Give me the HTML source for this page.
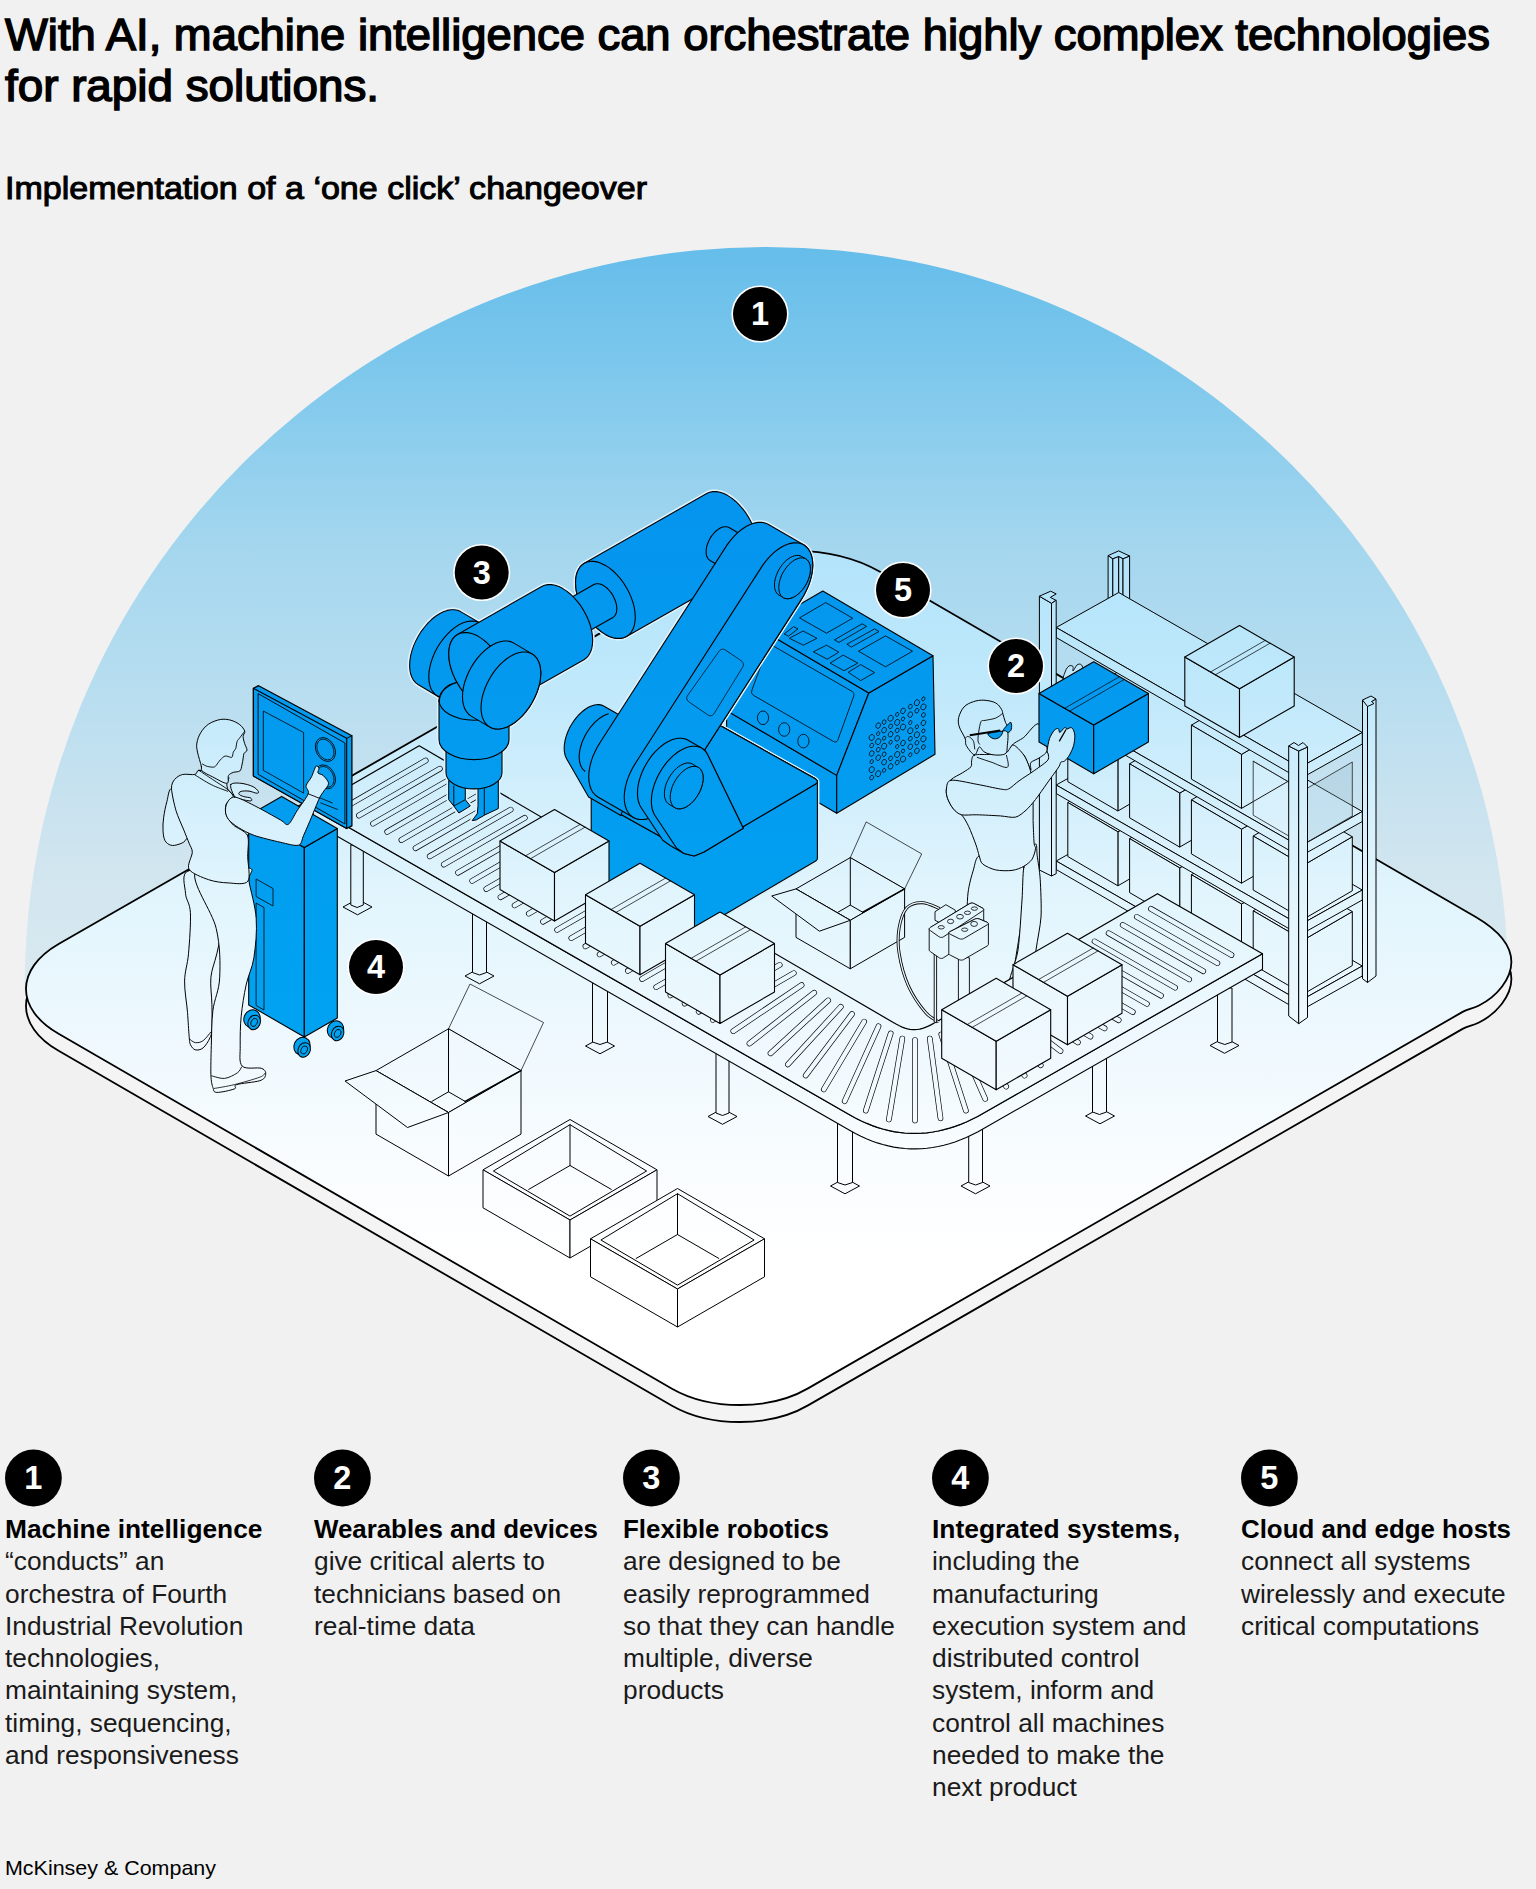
<!DOCTYPE html>
<html><head><meta charset="utf-8"><title>One click changeover</title>
<style>html,body{margin:0;padding:0;background:#f1f1f1}svg{display:block}text{font-family:"Liberation Sans",sans-serif}</style></head>
<body><svg width="1536" height="1889" viewBox="0 0 1536 1889">
<rect width="1536" height="1889" fill="#f1f1f1"/>
<defs>
<linearGradient id="dome" gradientUnits="userSpaceOnUse" x1="0" y1="247" x2="0" y2="990">
<stop offset="0" stop-color="#65bdea"/><stop offset="0.14" stop-color="#79c6ec"/><stop offset="0.394" stop-color="#a3d6ee"/><stop offset="0.61" stop-color="#b9def0"/><stop offset="0.744" stop-color="#c8e2ef"/><stop offset="0.852" stop-color="#d2e6ef"/><stop offset="1" stop-color="#d9e9f0"/></linearGradient>
<linearGradient id="lg" gradientUnits="userSpaceOnUse" x1="0" y1="540" x2="0" y2="1260">
<stop offset="0" stop-color="#b1e3fb"/><stop offset="0.222" stop-color="#c1e9fb"/><stop offset="0.361" stop-color="#d3effc"/><stop offset="0.5" stop-color="#e2f5fd"/><stop offset="0.72" stop-color="#f0f9fe"/><stop offset="0.85" stop-color="#f8fcff"/><stop offset="1" stop-color="#ffffff"/></linearGradient>
<linearGradient id="bl" gradientUnits="userSpaceOnUse" x1="0" y1="480" x2="0" y2="1050">
<stop offset="0" stop-color="#0594ee"/><stop offset="1" stop-color="#00a3f1"/></linearGradient>
</defs>
<path d="M24.5 989 A742 742 0 0 1 1508.5 989 Z" fill="url(#dome)"/>
<path d="M58.6 944 L708 571.4 C756 543.8 832 544 880 571.8 L1476.2 917.2 C1497 929.5 1511.5 945 1511.4 962.1 C1511.3 979 1497 996.5 1479 1005.5 C1472 1009 1468 1009 1462.6 1011.9 L808 1388.4 C770 1410.6 710 1410.4 672 1388.7 L58.6 1033.8 C15.1 1008.7 15.1 969.2 58.6 944Z" transform="translate(0,17)" fill="#f4f4f4" stroke="#000" stroke-width="1.8"/>
<path d="M58.6 944 L708 571.4 C756 543.8 832 544 880 571.8 L1476.2 917.2 C1497 929.5 1511.5 945 1511.4 962.1 C1511.3 979 1497 996.5 1479 1005.5 C1472 1009 1468 1009 1462.6 1011.9 L808 1388.4 C770 1410.6 710 1410.4 672 1388.7 L58.6 1033.8 C15.1 1008.7 15.1 969.2 58.6 944Z" fill="url(#lg)" stroke="#000" stroke-width="1.8"/>
<path d="M1108.1 555.6 L1112.8 558.7 L1112.8 600 L1108.1 600Z" fill="url(#lg)" stroke="#000" stroke-width="1" stroke-linejoin="round" />
<path d="M1112.8 558.7 L1118.7 556.4 L1118.7 600 L1112.8 600Z" fill="url(#lg)" stroke="#000" stroke-width="1" stroke-linejoin="round" />
<path d="M1118.7 556.4 L1123 558.7 L1123 600 L1118.7 600Z" fill="url(#lg)" stroke="#000" stroke-width="1" stroke-linejoin="round" />
<path d="M1123 558.7 L1129.6 556 L1129.6 605 L1123 605Z" fill="url(#lg)" stroke="#000" stroke-width="1" stroke-linejoin="round" />
<path d="M1108.1 555.6 L1118.7 550.9 L1129.6 556 L1123 558.7 L1118.7 556.4 L1112.8 558.7Z" fill="url(#lg)" stroke="#000" stroke-width="1" stroke-linejoin="round" />
<path d="M1362.5 700 L1367.5 703 L1367.5 982.5 L1362.5 978.7Z" fill="url(#lg)" stroke="#000" stroke-width="1" stroke-linejoin="round" />
<path d="M1367.5 703 L1376 699 L1376 976 L1367.5 982.5Z" fill="url(#lg)" stroke="#000" stroke-width="1" stroke-linejoin="round" />
<path d="M1362.5 700 L1371 696 L1376 699 L1371.5 701.5 L1374 703.5 L1367.5 706.5Z" fill="url(#lg)" stroke="#000" stroke-width="1" stroke-linejoin="round" />
<path d="M1056.2 861 L1118.7 826 L1362.3 966 L1299.8 1001Z" fill="url(#lg)" stroke="#000" stroke-width="1" stroke-linejoin="round" />
<path d="M1056.2 861 L1299.8 1001 L1299.8 1011 L1056.2 869.5Z" fill="url(#lg)" stroke="#000" stroke-width="1" stroke-linejoin="round" />
<path d="M1299.8 1001 L1362.3 966 L1362.3 976 L1299.8 1011Z" fill="url(#lg)" stroke="#000" stroke-width="1" stroke-linejoin="round" />
<path d="M1117.9 885.8 L1166.9 857.3 L1166.9 803.3 L1117.9 831.8Z" fill="url(#lg)" stroke="#000" stroke-width="1" stroke-linejoin="round" />
<path d="M1067.8 802.5 L1117.9 831.8 L1166.9 803.3 L1116.8 774Z" fill="url(#lg)" stroke="#000" stroke-width="1" stroke-linejoin="round" />
<path d="M1067.8 856.5 L1117.9 885.8 L1117.9 831.8 L1067.8 802.5Z" fill="url(#lg)" stroke="#000" stroke-width="1" stroke-linejoin="round" />
<path d="M1179.7 921.9 L1228.7 893.4 L1228.7 839.4 L1179.7 867.9Z" fill="url(#lg)" stroke="#000" stroke-width="1" stroke-linejoin="round" />
<path d="M1129.6 838.6 L1179.7 867.9 L1228.7 839.4 L1178.6 810.1Z" fill="url(#lg)" stroke="#000" stroke-width="1" stroke-linejoin="round" />
<path d="M1129.6 892.6 L1179.7 921.9 L1179.7 867.9 L1129.6 838.6Z" fill="url(#lg)" stroke="#000" stroke-width="1" stroke-linejoin="round" />
<path d="M1241.5 958 L1290.5 929.5 L1290.5 875.5 L1241.5 904Z" fill="url(#lg)" stroke="#000" stroke-width="1" stroke-linejoin="round" />
<path d="M1191.4 874.7 L1241.5 904 L1290.5 875.5 L1240.4 846.2Z" fill="url(#lg)" stroke="#000" stroke-width="1" stroke-linejoin="round" />
<path d="M1191.4 928.7 L1241.5 958 L1241.5 904 L1191.4 874.7Z" fill="url(#lg)" stroke="#000" stroke-width="1" stroke-linejoin="round" />
<path d="M1303.3 994.1 L1352.3 965.6 L1352.3 911.6 L1303.3 940.1Z" fill="url(#lg)" stroke="#000" stroke-width="1" stroke-linejoin="round" />
<path d="M1253.2 910.8 L1303.3 940.1 L1352.3 911.6 L1302.2 882.3Z" fill="url(#lg)" stroke="#000" stroke-width="1" stroke-linejoin="round" />
<path d="M1253.2 964.8 L1303.3 994.1 L1303.3 940.1 L1253.2 910.8Z" fill="url(#lg)" stroke="#000" stroke-width="1" stroke-linejoin="round" />
<path d="M1056.2 785 L1118.7 750 L1362.3 890 L1299.8 925Z" fill="url(#lg)" stroke="#000" stroke-width="1" stroke-linejoin="round" />
<path d="M1056.2 785 L1299.8 925 L1299.8 935 L1056.2 793.5Z" fill="url(#lg)" stroke="#000" stroke-width="1" stroke-linejoin="round" />
<path d="M1299.8 925 L1362.3 890 L1362.3 900 L1299.8 935Z" fill="url(#lg)" stroke="#000" stroke-width="1" stroke-linejoin="round" />
<path d="M1117.9 811 L1166.9 782.5 L1166.9 728.5 L1117.9 757Z" fill="url(#lg)" stroke="#000" stroke-width="1" stroke-linejoin="round" />
<path d="M1067.8 727.7 L1117.9 757 L1166.9 728.5 L1116.8 699.2Z" fill="url(#lg)" stroke="#000" stroke-width="1" stroke-linejoin="round" />
<path d="M1067.8 781.7 L1117.9 811 L1117.9 757 L1067.8 727.7Z" fill="url(#lg)" stroke="#000" stroke-width="1" stroke-linejoin="round" />
<path d="M1179.7 847.1 L1228.7 818.6 L1228.7 764.6 L1179.7 793.1Z" fill="url(#lg)" stroke="#000" stroke-width="1" stroke-linejoin="round" />
<path d="M1129.6 763.8 L1179.7 793.1 L1228.7 764.6 L1178.6 735.3Z" fill="url(#lg)" stroke="#000" stroke-width="1" stroke-linejoin="round" />
<path d="M1129.6 817.8 L1179.7 847.1 L1179.7 793.1 L1129.6 763.8Z" fill="url(#lg)" stroke="#000" stroke-width="1" stroke-linejoin="round" />
<path d="M1241.5 883.2 L1290.5 854.7 L1290.5 800.7 L1241.5 829.2Z" fill="url(#lg)" stroke="#000" stroke-width="1" stroke-linejoin="round" />
<path d="M1191.4 799.9 L1241.5 829.2 L1290.5 800.7 L1240.4 771.4Z" fill="url(#lg)" stroke="#000" stroke-width="1" stroke-linejoin="round" />
<path d="M1191.4 853.9 L1241.5 883.2 L1241.5 829.2 L1191.4 799.9Z" fill="url(#lg)" stroke="#000" stroke-width="1" stroke-linejoin="round" />
<path d="M1303.3 919.3 L1352.3 890.8 L1352.3 836.8 L1303.3 865.3Z" fill="url(#lg)" stroke="#000" stroke-width="1" stroke-linejoin="round" />
<path d="M1253.2 836 L1303.3 865.3 L1352.3 836.8 L1302.2 807.5Z" fill="url(#lg)" stroke="#000" stroke-width="1" stroke-linejoin="round" />
<path d="M1253.2 890 L1303.3 919.3 L1303.3 865.3 L1253.2 836Z" fill="url(#lg)" stroke="#000" stroke-width="1" stroke-linejoin="round" />
<path d="M1056.2 706.5 L1118.7 671.5 L1362.3 811.5 L1299.8 846.5Z" fill="url(#lg)" stroke="#000" stroke-width="1" stroke-linejoin="round" />
<path d="M1056.2 706.5 L1299.8 846.5 L1299.8 856.5 L1056.2 715Z" fill="url(#lg)" stroke="#000" stroke-width="1" stroke-linejoin="round" />
<path d="M1299.8 846.5 L1362.3 811.5 L1362.3 821.5 L1299.8 856.5Z" fill="url(#lg)" stroke="#000" stroke-width="1" stroke-linejoin="round" />
<path d="M1241.5 808.4 L1290.5 779.9 L1290.5 725.9 L1241.5 754.4Z" fill="url(#lg)" stroke="#000" stroke-width="1" stroke-linejoin="round" />
<path d="M1191.4 725.1 L1241.5 754.4 L1290.5 725.9 L1240.4 696.6Z" fill="url(#lg)" stroke="#000" stroke-width="1" stroke-linejoin="round" />
<path d="M1191.4 779.1 L1241.5 808.4 L1241.5 754.4 L1191.4 725.1Z" fill="url(#lg)" stroke="#000" stroke-width="1" stroke-linejoin="round" />
<path d="M1303.3 844.5 L1352.3 816 L1352.3 762 L1303.3 790.5Z" fill="rgba(150,185,205,0.28)" stroke="#222" stroke-width="0.8" stroke-linejoin="round" />
<path d="M1253.2 761.2 L1303.3 790.5" fill="none" stroke="#222" stroke-width="0.8" stroke-linejoin="round" stroke-linecap="round" />
<path d="M1253.2 815.2 L1303.3 844.5 L1303.3 790.5 L1253.2 761.2Z" fill="rgba(255,255,255,0.10)" stroke="#222" stroke-width="0.8" stroke-linejoin="round" />
<path d="M1056.2 627.5 L1118.7 592.5 L1362.3 732.5 L1299.8 767.5Z" fill="url(#lg)" stroke="#000" stroke-width="1" stroke-linejoin="round" />
<path d="M1056.2 627.5 L1299.8 767.5 L1299.8 779 L1056.2 637.5Z" fill="url(#lg)" stroke="#000" stroke-width="1" stroke-linejoin="round" />
<path d="M1299.8 767.5 L1362.3 732.5 L1362.3 744 L1299.8 779Z" fill="url(#lg)" stroke="#000" stroke-width="1" stroke-linejoin="round" />
<path d="M1184.8 657.1 L1239.5 688.7 L1239.5 737.5 L1184.8 705.9Z" fill="url(#lg)" stroke="#000" stroke-width="1.1" stroke-linejoin="round" />
<path d="M1239.5 688.7 L1294.2 657.1 L1294.2 705.9 L1239.5 737.5Z" fill="url(#lg)" stroke="#000" stroke-width="1.1" stroke-linejoin="round" />
<path d="M1184.8 657.1 L1239.5 625.5 L1294.2 657.1 L1239.5 688.7Z" fill="url(#lg)" stroke="#000" stroke-width="1.1" stroke-linejoin="round" />
<path d="M1210.5 672 L1265.2 640.4" fill="none" stroke="#000" stroke-width="0.7" stroke-linejoin="round" stroke-linecap="round" />
<path d="M1215.4 674.8 L1270.1 643.2" fill="none" stroke="#000" stroke-width="0.7" stroke-linejoin="round" stroke-linecap="round" />
<path d="M1288.7 746 L1298.7 751 L1298.7 1023.7 L1288.7 1016Z" fill="url(#lg)" stroke="#000" stroke-width="1" stroke-linejoin="round" />
<path d="M1298.7 751 L1307.5 747 L1307.5 1017.5 L1298.7 1023.7Z" fill="url(#lg)" stroke="#000" stroke-width="1" stroke-linejoin="round" />
<path d="M1288.7 746 L1294 742.5 L1298.5 745.5 L1303 742.5 L1307.5 747 L1298.7 751Z" fill="url(#lg)" stroke="#000" stroke-width="1" stroke-linejoin="round" />
<path d="M1039.4 596.2 L1051.5 603.3 L1051.5 876 L1039.4 870Z" fill="url(#lg)" stroke="#000" stroke-width="1" stroke-linejoin="round" />
<path d="M1051.5 603.3 L1056.2 600.2 L1056.2 873.7 L1051.5 876Z" fill="url(#lg)" stroke="#000" stroke-width="1" stroke-linejoin="round" />
<path d="M1039.4 596.2 L1050.7 591.2 L1056.2 593.9 L1050.3 597.4 L1055.8 600.2 L1051.5 603.3Z" fill="url(#lg)" stroke="#000" stroke-width="1" stroke-linejoin="round" />
<path d="M979.2 855.8 C975.6 856.9 974.9 864.9 973.4 869.9 C971.9 874.8 969 884.4 968 893 C967 901.6 966.8 923.1 966 934 C965.2 944.9 962.5 966.2 962 975 C961.5 983.8 956.9 996.7 962 1000 C967.1 1003.3 993.3 1003.3 1000 1000 C1006.7 996.7 1009.7 981.7 1012 975 C1014.3 968.3 1015.7 958 1017 950 C1018.3 942 1021.1 926 1022 915 C1022.9 904 1026.6 874.6 1023.8 867.5 C1020.9 860.4 1006.3 863.2 1000.3 861.6 C994.4 860.1 982.8 854.7 979.2 855.8Z" fill="url(#lg)" stroke="#000" stroke-width="1.0" stroke-linejoin="round" stroke-linecap="round"/>
<path d="M1023.8 867.5 C1022.6 874.2 1022.8 889 1022 900 C1021.2 911 1019.6 939.6 1018 950 C1016.4 960.4 1011.7 971.3 1010 978 C1008.3 984.7 1002.3 997.1 1005 1000 C1007.7 1002.9 1025.9 1006.7 1030 1000 C1034.1 993.3 1034.5 961.1 1036 950 C1037.5 938.9 1040.4 926.4 1041 917 C1041.6 907.6 1040.7 887.4 1040.2 879.2 C1039.7 871.1 1037.8 860.5 1037.2 855.8 C1036.7 851.1 1036.9 844.9 1036.1 844.1 C1035.2 843.3 1032.4 846.8 1030.8 849.9 C1029.1 853.1 1024.9 860.8 1023.8 867.5Z" fill="url(#lg)" stroke="#000" stroke-width="1.0" stroke-linejoin="round" stroke-linecap="round"/>
<path d="M1012 745.6 C1012 743.3 1020.2 740.3 1023.8 737.4 C1027.3 734.5 1035.3 722.4 1038.4 723.9 C1041.5 725.5 1047 744.7 1047.2 749.1 C1047.4 753.6 1042.3 755.5 1040.2 757.3 C1038 759.1 1032 760.9 1030.8 762.6 C1029.5 764.3 1031.7 771.3 1030.8 770.2 C1029.8 769.2 1026.3 758.3 1023.8 755 C1021.3 751.7 1012 748 1012 745.6Z" fill="url(#lg)" stroke="#000" stroke-width="1.0" stroke-linejoin="round" stroke-linecap="round"/>
<path d="M974.5 755 C971.6 756 972.1 759.1 971.6 760.9 C971.1 762.6 972.3 765 971 766.7 C969.7 768.5 965.8 770.6 962.8 772.6 C959.8 774.5 953.6 777.2 951.1 779.6 C948.6 782.1 946.9 786.2 946.4 789 C945.9 791.8 946.5 795.4 947.6 798.4 C948.6 801.4 951.3 806.5 953.4 808.9 C955.5 811.4 959.4 812.1 961.6 814.8 C963.9 817.4 966.6 822.1 968.7 826.5 C970.8 830.9 974.1 839.7 975.7 844.1 C977.3 848.5 978.2 852.8 979.2 855.8 C980.3 858.8 980.3 861.9 982.7 864 C985.2 866.1 991.2 868.9 995.6 869.9 C1000 870.8 1007.8 871 1012 870.4 C1016.3 869.9 1020.8 868 1023.8 866.3 C1026.7 864.7 1030.2 861.9 1032 859.3 C1033.7 856.7 1035.2 851.2 1035.5 848.8 C1035.8 846.3 1034.4 847.1 1034.1 842.9 C1033.7 838.7 1033.3 826.6 1033.1 820.6 C1033 814.7 1033.3 809.2 1033.1 803.1 C1033 796.9 1032.5 784.9 1032 779.6 C1031.4 774.3 1030.8 771.6 1029.6 767.9 C1028.4 764.2 1026.2 758.4 1023.8 755 C1021.3 751.6 1015.8 745.4 1013.2 745 C1010.6 744.7 1009.5 751.3 1006.2 752.7 C1002.8 754.1 995.7 754.1 990.9 754.4 C986.2 754.8 977.4 754 974.5 755Z" fill="url(#lg)" stroke="#000" stroke-width="1.0" stroke-linejoin="round" stroke-linecap="round"/>
<path d="M976.9 757.3 C979.2 758.1 985.9 760.4 990.9 762 C996 763.7 1004.8 768.5 1007.3 767.3 C1009.9 766.1 1006.6 757.1 1006.4 755" fill="none" stroke="#000" stroke-width="0.9"/>
<path d="M974.5 755 C972.4 754.8 967.9 748.4 966.3 745.6 C964.8 742.9 966.3 741.7 965.2 738.6 C964 735.5 960.4 730.4 959.3 726.9 C958.2 723.4 957.9 720.8 958.7 717.5 C959.5 714.2 961.5 709.6 964 707 C966.4 704.3 970 702.8 973.4 701.7 C976.7 700.5 980.2 700 983.9 700.2 C987.6 700.4 992.7 701.3 995.6 702.9 C998.6 704.4 1000.3 707.4 1001.5 709.3 C1002.7 711.2 1002.3 712 1002.9 714 C1003.5 715.9 1004.3 719 1005 721 C1005.7 723.1 1006.5 723.9 1007 726.3 C1007.5 728.6 1008 731.9 1008 735.1 C1008.1 738.3 1007.7 742.7 1007.3 745.6 C1007 748.6 1007.3 751.3 1006.2 752.9 C1005 754.5 1002.9 754.7 1000.3 755 C997.8 755.3 993.7 755 990.9 754.4 C988.2 753.9 985.9 753 983.9 751.7 C982 750.5 980.8 746.5 979.2 747 C977.7 747.6 976.7 755.2 974.5 755Z" fill="url(#lg)" stroke="#000" stroke-width="1.0" stroke-linejoin="round" stroke-linecap="round"/>
<path d="M1002.7 713.4 C1001.5 714.2 998.6 716.9 995.6 718.1 C992.7 719.3 987.5 719.8 985.1 720.4 C982.6 721 982.1 719.6 981 721.6 C979.9 723.7 979.1 729.5 978.6 732.7 C978.1 736 977.9 739 978 740.9 C978.2 742.9 979.5 743.9 979.8 744.5" fill="none" stroke="#000" stroke-width="0.9"/>
<path d="M965.2 738.6 C965.5 738.2 966.4 736.6 967.3 736.5 C968.1 736.3 969.4 736.8 970.4 737.7 C971.5 738.5 972.9 739.6 973.6 741.5 C974.3 743.5 974.6 748.1 974.8 749.4" fill="none" stroke="#000" stroke-width="0.9"/>
<path d="M969.8 735.3 L1000.3 730.6" stroke="#000" stroke-width="2" fill="none"/>
<path d="M988 733.7 C987.2 734.6 989.7 736.6 990.9 737.4 C992.2 738.3 994.1 739 995.6 738.8 C997.2 738.7 999.2 737.7 1000.3 736.5 C1001.4 735.3 1003.2 732.3 1002.4 731.6 C1001.6 730.8 998 731.8 995.6 732.2 C993.2 732.5 988.8 732.8 988 733.7Z" fill="url(#bl)" stroke="#000" stroke-width="1.0" stroke-linejoin="round" stroke-linecap="round"/>
<path d="M1002.4 731.3 C1002.5 730.7 1004.2 728.4 1005.6 726.9 C1007 725.4 1009.9 722 1010.9 722.4 C1011.8 722.8 1011.8 727.6 1011.3 729.2 C1010.9 730.9 1009.3 732.2 1008.3 732.4 C1007.2 732.6 1006 730.8 1005 730.6 C1004 730.5 1002.3 732 1002.4 731.3Z" fill="url(#bl)" stroke="#000" stroke-width="1.0" stroke-linejoin="round" stroke-linecap="round"/>
<path d="M1064 680 C1061.9 678.5 1064.7 673.3 1065.5 671 C1066.3 668.7 1067.8 666.8 1069 666 C1070.2 665.2 1072.3 665.7 1073 666.5 C1073.7 667.3 1072.3 671.2 1073 671 C1073.7 670.8 1075.7 666.1 1077 665 C1078.3 663.9 1080.1 663.8 1081 664.5 C1081.9 665.2 1083 666.4 1082.5 669 C1082 671.6 1081.1 678.2 1078 680 C1074.9 681.8 1066.1 681.5 1064 680Z" fill="url(#lg)" stroke="#000" stroke-width="0.9" stroke-linejoin="round" stroke-linecap="round"/>
<path d="M1039 693.4 L1093.7 725 L1093.7 773.7 L1039 742.1Z" fill="url(#bl)" stroke="#000" stroke-width="1.1" stroke-linejoin="round" />
<path d="M1093.7 725 L1148.4 693.4 L1148.4 742.1 L1093.7 773.7Z" fill="url(#bl)" stroke="#000" stroke-width="1.1" stroke-linejoin="round" />
<path d="M1039 693.4 L1093.7 661.8 L1148.4 693.4 L1093.7 725Z" fill="url(#bl)" stroke="#000" stroke-width="1.1" stroke-linejoin="round" />
<path d="M1064.7 708.3 L1119.4 676.7" fill="none" stroke="#000" stroke-width="0.7" stroke-linejoin="round" stroke-linecap="round" />
<path d="M1069.6 711.1 L1124.3 679.5" fill="none" stroke="#000" stroke-width="0.7" stroke-linejoin="round" stroke-linecap="round" />
<path d="M951.1 780.2 C955.7 779.5 969.5 783 976.9 784.3 C984.3 785.6 995.6 788.3 1000.3 789 C1005.1 789.7 1005.7 790.2 1008.5 789 C1011.3 787.8 1015.4 783.4 1019.1 780.8 C1022.8 778.1 1028.9 774.4 1033.1 771.4 C1037.3 768.4 1044.9 763.3 1047.2 760.9 C1049.5 758.4 1048.4 756.6 1048.4 755 C1048.4 753.4 1047 752.8 1047.2 750.3 C1047.4 747.9 1048.5 741.6 1049.5 738.6 C1050.6 735.6 1052.9 731.9 1054.2 730.4 C1055.5 728.9 1057.5 728.3 1058.3 728.6 C1059.2 729 1058.9 732.7 1059.8 732.5 C1060.8 732.3 1063.7 728 1064.8 727.5 C1065.8 727 1066.2 729.1 1066.9 729.2 C1067.5 729.3 1068.4 728.2 1069.2 728 C1070.1 727.9 1071.5 727.2 1072.4 728.3 C1073.2 729.3 1074.7 732.5 1074.8 735.1 C1075 737.7 1074.4 742.6 1073.6 745.6 C1072.8 748.6 1070.8 752.7 1069.5 755 C1068.1 757.3 1066.1 759.8 1064.8 760.9 C1063.5 762 1061.5 761.4 1060.7 762.3 C1059.8 763.1 1060.9 763.6 1058.9 766.7 C1056.9 769.9 1050.7 778.2 1047.2 783.1 C1043.7 788.1 1038.6 795.5 1035.5 799.5 C1032.3 803.6 1029.1 807.4 1026.1 810.1 C1023.1 812.7 1019.4 816.2 1015.6 817.1 C1011.7 818 1006.1 816.3 1000.3 815.9 C994.5 815.6 982.7 814.9 976.9 814.8 C971.1 814.6 965.2 815.6 961.6 814.8 C958.1 813.9 955.5 811.4 953.4 808.9 C951.3 806.5 948.6 801.4 947.6 798.4 C946.5 795.4 945.9 791.7 946.4 789 C946.9 786.3 946.5 780.9 951.1 780.2Z" fill="url(#lg)" stroke="#000" stroke-width="1.0" stroke-linejoin="round" stroke-linecap="round"/>
<path d="M1059.5 740.9 L1065.9 729.8" fill="none" stroke="#000" stroke-width="1.3" stroke-linejoin="round" stroke-linecap="round" />
<path d="M836.7 775.4 L836.7 813.3 L726.6 748.5 L726.6 710.6Z" fill="url(#bl)" stroke="#000" stroke-width="1.1" stroke-linejoin="round" />
<path d="M758.7 628.2 L868.8 693 L836.7 775.4 L726.6 710.6Z" fill="url(#bl)" stroke="#000" stroke-width="1.1" stroke-linejoin="round" />
<path d="M868.8 693 L933 655.8 L935 754.3 L836.7 813.3 L836.7 775.4Z" fill="url(#bl)" stroke="#000" stroke-width="1.1" stroke-linejoin="round" />
<path d="M758.7 628.2 L822.8 591 L933 655.8 L868.8 693Z" fill="url(#bl)" stroke="#000" stroke-width="1.1" stroke-linejoin="round" />
<path d="M799.5 617.9 L825.7 602.6 L852.7 618.2 L826.5 633.2Z" fill="none" stroke="#000" stroke-width="0.8" stroke-linejoin="round" />
<path d="M789.3 638.3 L803.1 631 L817 638.3 L803.4 645.2Z" fill="none" stroke="#000" stroke-width="0.8" stroke-linejoin="round" />
<path d="M834.5 639.8 L862.2 623.8 L866.6 626.4 L838.9 642.4Z" fill="none" stroke="#000" stroke-width="0.8" stroke-linejoin="round" />
<path d="M846.9 644.2 L874.6 628.9 L879 631.5 L851.3 647.1Z" fill="none" stroke="#000" stroke-width="0.8" stroke-linejoin="round" />
<path d="M858.5 651.2 L885.5 635.9 L912.5 651.2 L885.5 666.8Z" fill="none" stroke="#000" stroke-width="0.8" stroke-linejoin="round" />
<path d="M813.3 651.8 L826.5 645.2 L838.9 652.2 L827.2 659.2Z" fill="none" stroke="#000" stroke-width="0.8" stroke-linejoin="round" />
<path d="M830.1 663.1 L843.2 655.1 L857.8 663.1 L844 670.7Z" fill="none" stroke="#000" stroke-width="0.8" stroke-linejoin="round" />
<path d="M848.3 672.3 L860.7 664.6 L874.6 672.6 L860.7 680.6Z" fill="none" stroke="#000" stroke-width="0.8" stroke-linejoin="round" />
<path d="M784.2 634 L793.6 626.7 L798 628.9 L788.5 636.1Z" fill="none" stroke="#000" stroke-width="0.8" stroke-linejoin="round" />
<path d="M767.5 647.2 L768 646.1 L768.6 645.3 L769.4 644.9 L770.2 644.7 L771.2 644.9 L772.3 645.4 L851.4 691 L852.5 691.7 L853.2 692.6 L853.7 693.5 L853.9 694.5 L853.9 695.6 L853.5 696.8 L838 739.6 L837.5 740.7 L836.9 741.4 L836.1 741.9 L835.3 742 L834.3 741.8 L833.2 741.3 L754.1 695.7 L753.1 695 L752.3 694.2 L751.8 693.3 L751.6 692.3 L751.7 691.2 L752 690Z" fill="none" stroke="#000" stroke-width="0.8" stroke-linejoin="round" />
<ellipse cx="763" cy="717.8" rx="5.6" ry="6.8" fill="none" stroke="#000" stroke-width="0.8"/>
<ellipse cx="784.2" cy="729.5" rx="5.6" ry="6.8" fill="none" stroke="#000" stroke-width="0.8"/>
<ellipse cx="803.4" cy="741.1" rx="5.6" ry="6.8" fill="none" stroke="#000" stroke-width="0.8"/>
<ellipse cx="871.7" cy="737.5" rx="2.5" ry="3.1" fill="none" stroke="#000" stroke-width="0.7" transform="rotate(25 871.7 737.5)"/>
<ellipse cx="871.7" cy="745.5" rx="1.8" ry="2.4" fill="none" stroke="#000" stroke-width="0.7" transform="rotate(25 871.7 745.5)"/>
<ellipse cx="871.7" cy="753.5" rx="2.2" ry="2.9" fill="none" stroke="#000" stroke-width="0.7" transform="rotate(25 871.7 753.5)"/>
<ellipse cx="871.7" cy="761.6" rx="1.5" ry="2.1" fill="none" stroke="#000" stroke-width="0.7" transform="rotate(25 871.7 761.6)"/>
<ellipse cx="871.7" cy="769.6" rx="2.5" ry="3.1" fill="none" stroke="#000" stroke-width="0.7" transform="rotate(25 871.7 769.6)"/>
<ellipse cx="871.7" cy="777.6" rx="1.8" ry="2.4" fill="none" stroke="#000" stroke-width="0.7" transform="rotate(25 871.7 777.6)"/>
<ellipse cx="878.2" cy="725.6" rx="2.2" ry="2.9" fill="none" stroke="#000" stroke-width="0.7" transform="rotate(25 878.2 725.6)"/>
<ellipse cx="878.2" cy="733.6" rx="1.5" ry="2.1" fill="none" stroke="#000" stroke-width="0.7" transform="rotate(25 878.2 733.6)"/>
<ellipse cx="878.2" cy="741.6" rx="2.5" ry="3.1" fill="none" stroke="#000" stroke-width="0.7" transform="rotate(25 878.2 741.6)"/>
<ellipse cx="878.2" cy="749.7" rx="1.8" ry="2.4" fill="none" stroke="#000" stroke-width="0.7" transform="rotate(25 878.2 749.7)"/>
<ellipse cx="878.2" cy="757.7" rx="2.2" ry="2.9" fill="none" stroke="#000" stroke-width="0.7" transform="rotate(25 878.2 757.7)"/>
<ellipse cx="878.2" cy="773.7" rx="2.5" ry="3.1" fill="none" stroke="#000" stroke-width="0.7" transform="rotate(25 878.2 773.7)"/>
<ellipse cx="884.1" cy="722.1" rx="1.8" ry="2.4" fill="none" stroke="#000" stroke-width="0.7" transform="rotate(25 884.1 722.1)"/>
<ellipse cx="884.1" cy="730.2" rx="2.2" ry="2.9" fill="none" stroke="#000" stroke-width="0.7" transform="rotate(25 884.1 730.2)"/>
<ellipse cx="884.1" cy="738.2" rx="1.5" ry="2.1" fill="none" stroke="#000" stroke-width="0.7" transform="rotate(25 884.1 738.2)"/>
<ellipse cx="884.1" cy="746.2" rx="2.5" ry="3.1" fill="none" stroke="#000" stroke-width="0.7" transform="rotate(25 884.1 746.2)"/>
<ellipse cx="884.1" cy="754.2" rx="1.8" ry="2.4" fill="none" stroke="#000" stroke-width="0.7" transform="rotate(25 884.1 754.2)"/>
<ellipse cx="884.1" cy="762.2" rx="2.2" ry="2.9" fill="none" stroke="#000" stroke-width="0.7" transform="rotate(25 884.1 762.2)"/>
<ellipse cx="884.1" cy="770.3" rx="1.5" ry="2.1" fill="none" stroke="#000" stroke-width="0.7" transform="rotate(25 884.1 770.3)"/>
<ellipse cx="890.6" cy="718.3" rx="2.5" ry="3.1" fill="none" stroke="#000" stroke-width="0.7" transform="rotate(25 890.6 718.3)"/>
<ellipse cx="890.6" cy="726.3" rx="1.8" ry="2.4" fill="none" stroke="#000" stroke-width="0.7" transform="rotate(25 890.6 726.3)"/>
<ellipse cx="890.6" cy="734.3" rx="2.2" ry="2.9" fill="none" stroke="#000" stroke-width="0.7" transform="rotate(25 890.6 734.3)"/>
<ellipse cx="890.6" cy="742.3" rx="1.5" ry="2.1" fill="none" stroke="#000" stroke-width="0.7" transform="rotate(25 890.6 742.3)"/>
<ellipse cx="890.6" cy="758.4" rx="1.8" ry="2.4" fill="none" stroke="#000" stroke-width="0.7" transform="rotate(25 890.6 758.4)"/>
<ellipse cx="890.6" cy="766.4" rx="2.2" ry="2.9" fill="none" stroke="#000" stroke-width="0.7" transform="rotate(25 890.6 766.4)"/>
<ellipse cx="897.2" cy="714.4" rx="1.5" ry="2.1" fill="none" stroke="#000" stroke-width="0.7" transform="rotate(25 897.2 714.4)"/>
<ellipse cx="897.2" cy="722.4" rx="2.5" ry="3.1" fill="none" stroke="#000" stroke-width="0.7" transform="rotate(25 897.2 722.4)"/>
<ellipse cx="897.2" cy="730.4" rx="1.8" ry="2.4" fill="none" stroke="#000" stroke-width="0.7" transform="rotate(25 897.2 730.4)"/>
<ellipse cx="897.2" cy="738.4" rx="2.2" ry="2.9" fill="none" stroke="#000" stroke-width="0.7" transform="rotate(25 897.2 738.4)"/>
<ellipse cx="897.2" cy="746.5" rx="1.5" ry="2.1" fill="none" stroke="#000" stroke-width="0.7" transform="rotate(25 897.2 746.5)"/>
<ellipse cx="897.2" cy="754.5" rx="2.5" ry="3.1" fill="none" stroke="#000" stroke-width="0.7" transform="rotate(25 897.2 754.5)"/>
<ellipse cx="897.2" cy="762.5" rx="1.8" ry="2.4" fill="none" stroke="#000" stroke-width="0.7" transform="rotate(25 897.2 762.5)"/>
<ellipse cx="903" cy="710.9" rx="2.2" ry="2.9" fill="none" stroke="#000" stroke-width="0.7" transform="rotate(25 903 710.9)"/>
<ellipse cx="903" cy="718.9" rx="1.5" ry="2.1" fill="none" stroke="#000" stroke-width="0.7" transform="rotate(25 903 718.9)"/>
<ellipse cx="903" cy="727" rx="2.5" ry="3.1" fill="none" stroke="#000" stroke-width="0.7" transform="rotate(25 903 727)"/>
<ellipse cx="903" cy="743" rx="2.2" ry="2.9" fill="none" stroke="#000" stroke-width="0.7" transform="rotate(25 903 743)"/>
<ellipse cx="903" cy="751" rx="1.5" ry="2.1" fill="none" stroke="#000" stroke-width="0.7" transform="rotate(25 903 751)"/>
<ellipse cx="903" cy="759" rx="2.5" ry="3.1" fill="none" stroke="#000" stroke-width="0.7" transform="rotate(25 903 759)"/>
<ellipse cx="910.3" cy="706.6" rx="1.8" ry="2.4" fill="none" stroke="#000" stroke-width="0.7" transform="rotate(25 910.3 706.6)"/>
<ellipse cx="910.3" cy="714.6" rx="2.2" ry="2.9" fill="none" stroke="#000" stroke-width="0.7" transform="rotate(25 910.3 714.6)"/>
<ellipse cx="910.3" cy="722.6" rx="1.5" ry="2.1" fill="none" stroke="#000" stroke-width="0.7" transform="rotate(25 910.3 722.6)"/>
<ellipse cx="910.3" cy="730.7" rx="2.5" ry="3.1" fill="none" stroke="#000" stroke-width="0.7" transform="rotate(25 910.3 730.7)"/>
<ellipse cx="910.3" cy="738.7" rx="1.8" ry="2.4" fill="none" stroke="#000" stroke-width="0.7" transform="rotate(25 910.3 738.7)"/>
<ellipse cx="910.3" cy="746.7" rx="2.2" ry="2.9" fill="none" stroke="#000" stroke-width="0.7" transform="rotate(25 910.3 746.7)"/>
<ellipse cx="910.3" cy="754.7" rx="1.5" ry="2.1" fill="none" stroke="#000" stroke-width="0.7" transform="rotate(25 910.3 754.7)"/>
<ellipse cx="916.9" cy="702.7" rx="2.5" ry="3.1" fill="none" stroke="#000" stroke-width="0.7" transform="rotate(25 916.9 702.7)"/>
<ellipse cx="916.9" cy="710.7" rx="1.8" ry="2.4" fill="none" stroke="#000" stroke-width="0.7" transform="rotate(25 916.9 710.7)"/>
<ellipse cx="916.9" cy="726.8" rx="1.5" ry="2.1" fill="none" stroke="#000" stroke-width="0.7" transform="rotate(25 916.9 726.8)"/>
<ellipse cx="916.9" cy="734.8" rx="2.5" ry="3.1" fill="none" stroke="#000" stroke-width="0.7" transform="rotate(25 916.9 734.8)"/>
<ellipse cx="916.9" cy="742.8" rx="1.8" ry="2.4" fill="none" stroke="#000" stroke-width="0.7" transform="rotate(25 916.9 742.8)"/>
<ellipse cx="916.9" cy="750.8" rx="2.2" ry="2.9" fill="none" stroke="#000" stroke-width="0.7" transform="rotate(25 916.9 750.8)"/>
<ellipse cx="923.4" cy="698.8" rx="1.5" ry="2.1" fill="none" stroke="#000" stroke-width="0.7" transform="rotate(25 923.4 698.8)"/>
<ellipse cx="923.4" cy="706.9" rx="2.5" ry="3.1" fill="none" stroke="#000" stroke-width="0.7" transform="rotate(25 923.4 706.9)"/>
<ellipse cx="923.4" cy="714.9" rx="1.8" ry="2.4" fill="none" stroke="#000" stroke-width="0.7" transform="rotate(25 923.4 714.9)"/>
<ellipse cx="923.4" cy="722.9" rx="2.2" ry="2.9" fill="none" stroke="#000" stroke-width="0.7" transform="rotate(25 923.4 722.9)"/>
<ellipse cx="923.4" cy="730.9" rx="1.5" ry="2.1" fill="none" stroke="#000" stroke-width="0.7" transform="rotate(25 923.4 730.9)"/>
<ellipse cx="923.4" cy="738.9" rx="2.5" ry="3.1" fill="none" stroke="#000" stroke-width="0.7" transform="rotate(25 923.4 738.9)"/>
<ellipse cx="923.4" cy="747" rx="1.8" ry="2.4" fill="none" stroke="#000" stroke-width="0.7" transform="rotate(25 923.4 747)"/>
<path d="M343 907 L357.5 899.2 L372 907 L357.5 914.8Z" fill="url(#lg)" stroke="#000" stroke-width="1.0" stroke-linejoin="round" />
<path d="M350.8 845 L363.3 845 L363.3 905 L357.1 907.5 L350.8 905Z" fill="url(#lg)" stroke="#000" stroke-width="1.0" stroke-linejoin="round" />
<path d="M465 976 L479.5 968.2 L494 976 L479.5 983.8Z" fill="url(#lg)" stroke="#000" stroke-width="1.0" stroke-linejoin="round" />
<path d="M472.5 912 L486.5 912 L486.5 972.5 L479.5 975 L472.5 972.5Z" fill="url(#lg)" stroke="#000" stroke-width="1.0" stroke-linejoin="round" />
<path d="M585.5 1046 L600 1038.2 L614.5 1046 L600 1053.8Z" fill="url(#lg)" stroke="#000" stroke-width="1.0" stroke-linejoin="round" />
<path d="M592.5 983 L607.5 983 L607.5 1042 L600 1044.5 L592.5 1042Z" fill="url(#lg)" stroke="#000" stroke-width="1.0" stroke-linejoin="round" />
<path d="M708 1116.5 L722.5 1108.7 L737 1116.5 L722.5 1124.3Z" fill="url(#lg)" stroke="#000" stroke-width="1.0" stroke-linejoin="round" />
<path d="M716 1052 L729 1052 L729 1113 L722.5 1115.5 L716 1113Z" fill="url(#lg)" stroke="#000" stroke-width="1.0" stroke-linejoin="round" />
<path d="M830.5 1186 L845 1178.2 L859.5 1186 L845 1193.8Z" fill="url(#lg)" stroke="#000" stroke-width="1.0" stroke-linejoin="round" />
<path d="M837.5 1120 L852.5 1120 L852.5 1182.5 L845 1185 L837.5 1182.5Z" fill="url(#lg)" stroke="#000" stroke-width="1.0" stroke-linejoin="round" />
<path d="M961 1186 L975.5 1178.2 L990 1186 L975.5 1193.8Z" fill="url(#lg)" stroke="#000" stroke-width="1.0" stroke-linejoin="round" />
<path d="M968.7 1128 L982.5 1128 L982.5 1182.5 L975.6 1185 L968.7 1182.5Z" fill="url(#lg)" stroke="#000" stroke-width="1.0" stroke-linejoin="round" />
<path d="M1085.5 1116 L1100 1108.2 L1114.5 1116 L1100 1123.8Z" fill="url(#lg)" stroke="#000" stroke-width="1.0" stroke-linejoin="round" />
<path d="M1092.5 1058 L1106.5 1058 L1106.5 1112 L1099.5 1114.5 L1092.5 1112Z" fill="url(#lg)" stroke="#000" stroke-width="1.0" stroke-linejoin="round" />
<path d="M1210 1045.5 L1224.5 1037.7 L1239 1045.5 L1224.5 1053.3Z" fill="url(#lg)" stroke="#000" stroke-width="1.0" stroke-linejoin="round" />
<path d="M1217.5 988 L1232 988 L1232 1042 L1224.8 1044.5 L1217.5 1042Z" fill="url(#lg)" stroke="#000" stroke-width="1.0" stroke-linejoin="round" />
<path d="M1262.5 953.7 L983.3 1113.3 L977.6 1116.5 L971.9 1119.3 L966.3 1122 L960.6 1124.3 L955 1126.4 L949.4 1128.2 L943.8 1129.7 L938.2 1131 L932.6 1132 L927 1132.8 L921.5 1133.2 L915.9 1133.4 L910.4 1133.4 L904.8 1133 L899.3 1132.4 L893.8 1131.6 L888.3 1130.4 L882.8 1129 L877.3 1127.4 L871.8 1125.4 L866.4 1123.2 L860.9 1120.7 L855.4 1118 L850 1115 L313.2 807 L313.2 822.5 L850 1130.5 L855.4 1133.5 L860.9 1136.2 L866.4 1138.7 L871.8 1140.9 L877.3 1142.9 L882.8 1144.5 L888.3 1145.9 L893.8 1147.1 L899.3 1147.9 L904.8 1148.5 L910.4 1148.9 L915.9 1148.9 L921.5 1148.7 L927 1148.3 L932.6 1147.5 L938.2 1146.5 L943.8 1145.2 L949.4 1143.7 L955 1141.9 L960.6 1139.8 L966.3 1137.5 L971.9 1134.8 L977.6 1132 L983.3 1128.8 L1262.5 969.2Z" fill="url(#lg)" stroke="#000" stroke-width="1.1" stroke-linejoin="round" />
<path d="M419.2 745.8 L893.3 1022.5 L896.5 1024.3 L899.4 1025.8 L902.2 1027.1 L904.9 1028.1 L907.5 1028.9 L910 1029.4 L912.4 1029.7 L914.9 1029.7 L917.4 1029.5 L919.9 1029.1 L922.6 1028.3 L925.3 1027.3 L928.3 1026.1 L931.4 1024.6 L934.7 1022.8 L938.3 1020.8 L1157.5 893.7 L1262.5 953.7 L983.3 1113.3 L977.6 1116.5 L971.9 1119.3 L966.3 1122 L960.6 1124.3 L955 1126.4 L949.4 1128.2 L943.8 1129.7 L938.2 1131 L932.6 1132 L927 1132.8 L921.5 1133.2 L915.9 1133.4 L910.4 1133.4 L904.8 1133 L899.3 1132.4 L893.8 1131.6 L888.3 1130.4 L882.8 1129 L877.3 1127.4 L871.8 1125.4 L866.4 1123.2 L860.9 1120.7 L855.4 1118 L850 1115 L313.2 807Z" fill="url(#lg)" stroke="#000" stroke-width="1.25" stroke-linejoin="round" />
<path d="M425.7 760.5L344.7 807.3" stroke="#000" stroke-width="5.65" stroke-linecap="round" fill="none"/>
<path d="M425.7 760.5L344.7 807.3" stroke="url(#lg)" stroke-width="4.35" stroke-linecap="round" fill="none"/>
<path d="M439.9 768.7L358.9 815.5" stroke="#000" stroke-width="5.65" stroke-linecap="round" fill="none"/>
<path d="M439.9 768.7L358.9 815.5" stroke="url(#lg)" stroke-width="4.35" stroke-linecap="round" fill="none"/>
<path d="M454 776.9L373 823.6" stroke="#000" stroke-width="5.65" stroke-linecap="round" fill="none"/>
<path d="M454 776.9L373 823.6" stroke="url(#lg)" stroke-width="4.35" stroke-linecap="round" fill="none"/>
<path d="M468.2 785.1L387.2 831.8" stroke="#000" stroke-width="5.65" stroke-linecap="round" fill="none"/>
<path d="M468.2 785.1L387.2 831.8" stroke="url(#lg)" stroke-width="4.35" stroke-linecap="round" fill="none"/>
<path d="M482.3 793.2L401.4 840" stroke="#000" stroke-width="5.65" stroke-linecap="round" fill="none"/>
<path d="M482.3 793.2L401.4 840" stroke="url(#lg)" stroke-width="4.35" stroke-linecap="round" fill="none"/>
<path d="M496.5 801.4L415.5 848.2" stroke="#000" stroke-width="5.65" stroke-linecap="round" fill="none"/>
<path d="M496.5 801.4L415.5 848.2" stroke="url(#lg)" stroke-width="4.35" stroke-linecap="round" fill="none"/>
<path d="M510.7 809.6L429.7 856.3" stroke="#000" stroke-width="5.65" stroke-linecap="round" fill="none"/>
<path d="M510.7 809.6L429.7 856.3" stroke="url(#lg)" stroke-width="4.35" stroke-linecap="round" fill="none"/>
<path d="M524.8 817.8L443.8 864.5" stroke="#000" stroke-width="5.65" stroke-linecap="round" fill="none"/>
<path d="M524.8 817.8L443.8 864.5" stroke="url(#lg)" stroke-width="4.35" stroke-linecap="round" fill="none"/>
<path d="M539 825.9L458 872.7" stroke="#000" stroke-width="5.65" stroke-linecap="round" fill="none"/>
<path d="M539 825.9L458 872.7" stroke="url(#lg)" stroke-width="4.35" stroke-linecap="round" fill="none"/>
<path d="M553.1 834.1L472.2 880.9" stroke="#000" stroke-width="5.65" stroke-linecap="round" fill="none"/>
<path d="M553.1 834.1L472.2 880.9" stroke="url(#lg)" stroke-width="4.35" stroke-linecap="round" fill="none"/>
<path d="M567.3 842.3L486.3 889" stroke="#000" stroke-width="5.65" stroke-linecap="round" fill="none"/>
<path d="M567.3 842.3L486.3 889" stroke="url(#lg)" stroke-width="4.35" stroke-linecap="round" fill="none"/>
<path d="M581.4 850.5L500.5 897.2" stroke="#000" stroke-width="5.65" stroke-linecap="round" fill="none"/>
<path d="M581.4 850.5L500.5 897.2" stroke="url(#lg)" stroke-width="4.35" stroke-linecap="round" fill="none"/>
<path d="M595.6 858.6L514.6 905.4" stroke="#000" stroke-width="5.65" stroke-linecap="round" fill="none"/>
<path d="M595.6 858.6L514.6 905.4" stroke="url(#lg)" stroke-width="4.35" stroke-linecap="round" fill="none"/>
<path d="M609.8 866.8L528.8 913.6" stroke="#000" stroke-width="5.65" stroke-linecap="round" fill="none"/>
<path d="M609.8 866.8L528.8 913.6" stroke="url(#lg)" stroke-width="4.35" stroke-linecap="round" fill="none"/>
<path d="M623.9 875L543 921.7" stroke="#000" stroke-width="5.65" stroke-linecap="round" fill="none"/>
<path d="M623.9 875L543 921.7" stroke="url(#lg)" stroke-width="4.35" stroke-linecap="round" fill="none"/>
<path d="M638.1 883.2L557.1 929.9" stroke="#000" stroke-width="5.65" stroke-linecap="round" fill="none"/>
<path d="M638.1 883.2L557.1 929.9" stroke="url(#lg)" stroke-width="4.35" stroke-linecap="round" fill="none"/>
<path d="M652.2 891.3L571.3 938.1" stroke="#000" stroke-width="5.65" stroke-linecap="round" fill="none"/>
<path d="M652.2 891.3L571.3 938.1" stroke="url(#lg)" stroke-width="4.35" stroke-linecap="round" fill="none"/>
<path d="M666.4 899.5L585.4 946.3" stroke="#000" stroke-width="5.65" stroke-linecap="round" fill="none"/>
<path d="M666.4 899.5L585.4 946.3" stroke="url(#lg)" stroke-width="4.35" stroke-linecap="round" fill="none"/>
<path d="M680.6 907.7L599.6 954.4" stroke="#000" stroke-width="5.65" stroke-linecap="round" fill="none"/>
<path d="M680.6 907.7L599.6 954.4" stroke="url(#lg)" stroke-width="4.35" stroke-linecap="round" fill="none"/>
<path d="M694.7 915.9L613.8 962.6" stroke="#000" stroke-width="5.65" stroke-linecap="round" fill="none"/>
<path d="M694.7 915.9L613.8 962.6" stroke="url(#lg)" stroke-width="4.35" stroke-linecap="round" fill="none"/>
<path d="M708.9 924L627.9 970.8" stroke="#000" stroke-width="5.65" stroke-linecap="round" fill="none"/>
<path d="M708.9 924L627.9 970.8" stroke="url(#lg)" stroke-width="4.35" stroke-linecap="round" fill="none"/>
<path d="M723 932.2L642.1 979" stroke="#000" stroke-width="5.65" stroke-linecap="round" fill="none"/>
<path d="M723 932.2L642.1 979" stroke="url(#lg)" stroke-width="4.35" stroke-linecap="round" fill="none"/>
<path d="M737.2 940.4L656.2 987.1" stroke="#000" stroke-width="5.65" stroke-linecap="round" fill="none"/>
<path d="M737.2 940.4L656.2 987.1" stroke="url(#lg)" stroke-width="4.35" stroke-linecap="round" fill="none"/>
<path d="M751.4 948.6L670.4 995.3" stroke="#000" stroke-width="5.65" stroke-linecap="round" fill="none"/>
<path d="M751.4 948.6L670.4 995.3" stroke="url(#lg)" stroke-width="4.35" stroke-linecap="round" fill="none"/>
<path d="M765.5 956.8L684.6 1003.5" stroke="#000" stroke-width="5.65" stroke-linecap="round" fill="none"/>
<path d="M765.5 956.8L684.6 1003.5" stroke="url(#lg)" stroke-width="4.35" stroke-linecap="round" fill="none"/>
<path d="M779.7 964.9L698.7 1011.7" stroke="#000" stroke-width="5.65" stroke-linecap="round" fill="none"/>
<path d="M779.7 964.9L698.7 1011.7" stroke="url(#lg)" stroke-width="4.35" stroke-linecap="round" fill="none"/>
<path d="M793.8 973.1L712.9 1019.9" stroke="#000" stroke-width="5.65" stroke-linecap="round" fill="none"/>
<path d="M793.8 973.1L712.9 1019.9" stroke="url(#lg)" stroke-width="4.35" stroke-linecap="round" fill="none"/>
<path d="M801.6 985.1L733.3 1031.1" stroke="#000" stroke-width="5.65" stroke-linecap="round" fill="none"/>
<path d="M801.6 985.1L733.3 1031.1" stroke="url(#lg)" stroke-width="4.35" stroke-linecap="round" fill="none"/>
<path d="M814.2 992.7L749.5 1043.5" stroke="#000" stroke-width="5.65" stroke-linecap="round" fill="none"/>
<path d="M814.2 992.7L749.5 1043.5" stroke="url(#lg)" stroke-width="4.35" stroke-linecap="round" fill="none"/>
<path d="M828.2 1000.4L770.5 1053.3" stroke="#000" stroke-width="5.65" stroke-linecap="round" fill="none"/>
<path d="M828.2 1000.4L770.5 1053.3" stroke="url(#lg)" stroke-width="4.35" stroke-linecap="round" fill="none"/>
<path d="M840.8 1006.8L787.9 1064.4" stroke="#000" stroke-width="5.65" stroke-linecap="round" fill="none"/>
<path d="M840.8 1006.8L787.9 1064.4" stroke="url(#lg)" stroke-width="4.35" stroke-linecap="round" fill="none"/>
<path d="M852 1014L805.7 1075.5" stroke="#000" stroke-width="5.65" stroke-linecap="round" fill="none"/>
<path d="M852 1014L805.7 1075.5" stroke="url(#lg)" stroke-width="4.35" stroke-linecap="round" fill="none"/>
<path d="M864.2 1021.6L823.8 1089.4" stroke="#000" stroke-width="5.65" stroke-linecap="round" fill="none"/>
<path d="M864.2 1021.6L823.8 1089.4" stroke="url(#lg)" stroke-width="4.35" stroke-linecap="round" fill="none"/>
<path d="M878.5 1026.3L844.7 1101.2" stroke="#000" stroke-width="5.65" stroke-linecap="round" fill="none"/>
<path d="M878.5 1026.3L844.7 1101.2" stroke="url(#lg)" stroke-width="4.35" stroke-linecap="round" fill="none"/>
<path d="M890.7 1033.4L865.8 1110.6" stroke="#000" stroke-width="5.65" stroke-linecap="round" fill="none"/>
<path d="M890.7 1033.4L865.8 1110.6" stroke="url(#lg)" stroke-width="4.35" stroke-linecap="round" fill="none"/>
<path d="M902.3 1038.5L888.9 1119.5" stroke="#000" stroke-width="5.65" stroke-linecap="round" fill="none"/>
<path d="M902.3 1038.5L888.9 1119.5" stroke="url(#lg)" stroke-width="4.35" stroke-linecap="round" fill="none"/>
<path d="M915 1040L915 1120.5" stroke="#000" stroke-width="5.65" stroke-linecap="round" fill="none"/>
<path d="M915 1040L915 1120.5" stroke="url(#lg)" stroke-width="4.35" stroke-linecap="round" fill="none"/>
<path d="M929.8 1038.5L940.5 1118.3" stroke="#000" stroke-width="5.65" stroke-linecap="round" fill="none"/>
<path d="M929.8 1038.5L940.5 1118.3" stroke="url(#lg)" stroke-width="4.35" stroke-linecap="round" fill="none"/>
<path d="M941.3 1034.4L965.9 1110.6" stroke="#000" stroke-width="5.65" stroke-linecap="round" fill="none"/>
<path d="M941.3 1034.4L965.9 1110.6" stroke="url(#lg)" stroke-width="4.35" stroke-linecap="round" fill="none"/>
<path d="M955.4 1031.4L985.2 1098.9" stroke="#000" stroke-width="5.65" stroke-linecap="round" fill="none"/>
<path d="M955.4 1031.4L985.2 1098.9" stroke="url(#lg)" stroke-width="4.35" stroke-linecap="round" fill="none"/>
<path d="M968.4 1025.8L1006.2 1086.6" stroke="#000" stroke-width="5.65" stroke-linecap="round" fill="none"/>
<path d="M968.4 1025.8L1006.2 1086.6" stroke="url(#lg)" stroke-width="4.35" stroke-linecap="round" fill="none"/>
<path d="M979.3 1019.5L1024.6 1075.6" stroke="#000" stroke-width="5.65" stroke-linecap="round" fill="none"/>
<path d="M979.3 1019.5L1024.6 1075.6" stroke="url(#lg)" stroke-width="4.35" stroke-linecap="round" fill="none"/>
<path d="M988.4 1013.1L1040.7 1065.2" stroke="#000" stroke-width="5.65" stroke-linecap="round" fill="none"/>
<path d="M988.4 1013.1L1040.7 1065.2" stroke="url(#lg)" stroke-width="4.35" stroke-linecap="round" fill="none"/>
<path d="M998.8 1003.9L1060.5 1051" stroke="#000" stroke-width="5.65" stroke-linecap="round" fill="none"/>
<path d="M998.8 1003.9L1060.5 1051" stroke="url(#lg)" stroke-width="4.35" stroke-linecap="round" fill="none"/>
<path d="M1005.5 996.9L1077.9 1042.4" stroke="#000" stroke-width="5.65" stroke-linecap="round" fill="none"/>
<path d="M1005.5 996.9L1077.9 1042.4" stroke="url(#lg)" stroke-width="4.35" stroke-linecap="round" fill="none"/>
<path d="M1150.9 908.8L1231.5 955" stroke="#000" stroke-width="5.65" stroke-linecap="round" fill="none"/>
<path d="M1150.9 908.8L1231.5 955" stroke="url(#lg)" stroke-width="4.35" stroke-linecap="round" fill="none"/>
<path d="M1136.8 916.9L1217.4 963.1" stroke="#000" stroke-width="5.65" stroke-linecap="round" fill="none"/>
<path d="M1136.8 916.9L1217.4 963.1" stroke="url(#lg)" stroke-width="4.35" stroke-linecap="round" fill="none"/>
<path d="M1122.7 925L1203.3 971.2" stroke="#000" stroke-width="5.65" stroke-linecap="round" fill="none"/>
<path d="M1122.7 925L1203.3 971.2" stroke="url(#lg)" stroke-width="4.35" stroke-linecap="round" fill="none"/>
<path d="M1108.6 933.2L1189.2 979.4" stroke="#000" stroke-width="5.65" stroke-linecap="round" fill="none"/>
<path d="M1108.6 933.2L1189.2 979.4" stroke="url(#lg)" stroke-width="4.35" stroke-linecap="round" fill="none"/>
<path d="M1094.5 941.4L1175.1 987.6" stroke="#000" stroke-width="5.65" stroke-linecap="round" fill="none"/>
<path d="M1094.5 941.4L1175.1 987.6" stroke="url(#lg)" stroke-width="4.35" stroke-linecap="round" fill="none"/>
<path d="M1080.4 949.5L1161 995.7" stroke="#000" stroke-width="5.65" stroke-linecap="round" fill="none"/>
<path d="M1080.4 949.5L1161 995.7" stroke="url(#lg)" stroke-width="4.35" stroke-linecap="round" fill="none"/>
<path d="M1066.3 957.6L1146.9 1003.9" stroke="#000" stroke-width="5.65" stroke-linecap="round" fill="none"/>
<path d="M1066.3 957.6L1146.9 1003.9" stroke="url(#lg)" stroke-width="4.35" stroke-linecap="round" fill="none"/>
<path d="M1052.2 965.8L1132.8 1012" stroke="#000" stroke-width="5.65" stroke-linecap="round" fill="none"/>
<path d="M1052.2 965.8L1132.8 1012" stroke="url(#lg)" stroke-width="4.35" stroke-linecap="round" fill="none"/>
<path d="M1038.1 974L1118.7 1020.2" stroke="#000" stroke-width="5.65" stroke-linecap="round" fill="none"/>
<path d="M1038.1 974L1118.7 1020.2" stroke="url(#lg)" stroke-width="4.35" stroke-linecap="round" fill="none"/>
<path d="M1024 982.1L1104.6 1028.3" stroke="#000" stroke-width="5.65" stroke-linecap="round" fill="none"/>
<path d="M1024 982.1L1104.6 1028.3" stroke="url(#lg)" stroke-width="4.35" stroke-linecap="round" fill="none"/>
<path d="M1009.9 990.2L1090.5 1036.5" stroke="#000" stroke-width="5.65" stroke-linecap="round" fill="none"/>
<path d="M1009.9 990.2L1090.5 1036.5" stroke="url(#lg)" stroke-width="4.35" stroke-linecap="round" fill="none"/>
<path d="M591.2 796.4 L591.5 795.4 L592.3 794.4 L593.8 793.4 L709.2 725.4 L711 724.6 L712.7 724.1 L714.4 723.9 L716.1 724 L717.9 724.5 L719.6 725.3 L814.8 778.6 L816.2 779.5 L817.1 780.5 L817.4 781.5 L817.4 858.5 L817.1 859.5 L816.3 860.5 L814.8 861.5 L699.4 929.5 L697.6 930.3 L695.9 930.8 L694.2 931 L692.5 930.9 L690.7 930.4 L689 929.6 L593.8 876.3 L592.4 875.4 L591.5 874.4 L591.2 873.4Z" fill="none" stroke="#d9f1fc" stroke-width="4.1" stroke-linejoin="round"/>
<path d="M591.2 796.4 L591.5 795.4 L592.3 794.4 L593.8 793.4 L709.2 725.4 L711 724.6 L712.7 724.1 L714.4 723.9 L716.1 724 L717.9 724.5 L719.6 725.3 L814.8 778.6 L816.2 779.5 L817.1 780.5 L817.4 781.5 L817.4 858.5 L817.1 859.5 L816.3 860.5 L814.8 861.5 L699.4 929.5 L697.6 930.3 L695.9 930.8 L694.2 931 L692.5 930.9 L690.7 930.4 L689 929.6 L593.8 876.3 L592.4 875.4 L591.5 874.4 L591.2 873.4Z" fill="url(#bl)" stroke="#000" stroke-width="1.1" stroke-linejoin="round" />
<path d="M593.8 793.4 L592.3 794.4 L591.5 795.4 L591.2 796.4 L591.5 797.4 L592.4 798.4 L593.8 799.3 L689 852.6 L690.7 853.4 L692.4 853.9 L694.2 854 L695.9 853.8 L697.6 853.3 L699.4 852.5 L814.8 784.5 L816.3 783.5 L817.1 782.5 L817.4 781.5 L817.1 780.5 L816.2 779.5 L814.8 778.6 L719.6 725.3 L717.9 724.5 L716.2 724 L714.4 723.9 L712.7 724.1 L711 724.6 L709.2 725.4Z" fill="url(#bl)" stroke="#000" stroke-width="1.1" stroke-linejoin="round" />
<path d="M850.3 857.6 L866.2 821.9 L921.7 853.9 L904.6 888.9Z" fill="url(#lg)" stroke="#000" stroke-width="0.7" stroke-linejoin="round" />
<path d="M796 888.9 L850.3 857.6 L904.6 888.9 L850.3 920.3Z" fill="url(#lg)" stroke="#000" stroke-width="1.0" stroke-linejoin="round" />
<path d="M850.3 857.6 L850.3 905.1" fill="none" stroke="#000" stroke-width="1.0" stroke-linejoin="round" stroke-linecap="round" />
<path d="M837.8 912.3 L850.3 905.1 L862.8 912.3" fill="none" stroke="#000" stroke-width="1.0" stroke-linejoin="round" stroke-linecap="round" />
<path d="M796 888.9 L850.3 920.3 L850.3 968.8 L796 937.4Z" fill="url(#lg)" stroke="#000" stroke-width="1.0" stroke-linejoin="round" />
<path d="M850.3 920.3 L904.6 888.9 L904.6 937.4 L850.3 968.8Z" fill="url(#lg)" stroke="#000" stroke-width="1.0" stroke-linejoin="round" />
<path d="M862.8 912.3 L904.6 888.9" fill="none" stroke="#000" stroke-width="1.6" stroke-linejoin="round" stroke-linecap="round" />
<path d="M796 888.9 L771.7 896 L819.4 931.2 L850.3 920.3Z" fill="url(#lg)" stroke="#000" stroke-width="1.0" stroke-linejoin="round" />
<path d="M939.7 908.6 C936.8 907.6 928 902.8 922.5 902.7 C917 902.5 910.8 903.6 906.9 907.8 C903 912.1 900.4 920.6 899.1 928.1 C897.8 935.7 897.5 943.5 899.1 953.1 C900.6 962.8 904 976 908.4 985.9 C912.9 995.8 920.5 1006.5 925.6 1012.5 C930.7 1018.5 936.7 1020.3 938.9 1021.9" fill="none" stroke="#000" stroke-width="3"/>
<path d="M939.7 908.6 C936.8 907.6 928 902.8 922.5 902.7 C917 902.5 910.8 903.6 906.9 907.8 C903 912.1 900.4 920.6 899.1 928.1 C897.8 935.7 897.5 943.5 899.1 953.1 C900.6 962.8 904 976 908.4 985.9 C912.9 995.8 920.5 1006.5 925.6 1012.5 C930.7 1018.5 936.7 1020.3 938.9 1021.9" fill="none" stroke="#eaf7fe" stroke-width="1.3"/>
<path d="M934.2 940.6 L936.6 941.4 L936.6 1022.7 L934.2 1021.9Z" fill="url(#lg)" stroke="#000" stroke-width="0.9" stroke-linejoin="round" />
<path d="M958.4 956.2 L969.4 957.8 L969.4 995.3 L958.4 1000.8Z" fill="url(#lg)" stroke="#000" stroke-width="0.9" stroke-linejoin="round" />
<path d="M935 911.7 L945.9 904.7 L955.3 910.2 L955.3 918.8 L944.4 925 L935 920.3Z" fill="url(#lg)" stroke="#000" stroke-width="0.9" stroke-linejoin="round" />
<path d="M929.2 929 L929.4 928.4 L929.8 927.9 L930.5 927.4 L969.1 903.9 L970 903.5 L970.9 903.2 L971.7 903.1 L972.6 903.1 L973.5 903.4 L974.4 903.8 L982.4 908 L983.1 908.5 L983.5 908.9 L983.7 909.4 L983.7 930.4 L983.6 931 L983.2 931.5 L982.5 932 L943.8 957.6 L942.9 958.1 L942.1 958.4 L941.3 958.4 L940.4 958.3 L939.6 958 L938.8 957.5 L930.4 951.6 L929.7 951.1 L929.3 950.5 L929.2 950Z" fill="url(#lg)" stroke="#000" stroke-width="0.9" stroke-linejoin="round" />
<path d="M930.4 930.6 L929.7 930.1 L929.3 929.5 L929.2 928.9 L929.4 928.4 L929.8 927.9 L930.5 927.3 L969.2 903.9 L970 903.5 L970.9 903.2 L971.7 903.1 L972.6 903.1 L973.5 903.4 L974.4 903.7 L982.3 908 L983.1 908.4 L983.5 908.9 L983.7 909.4 L983.6 910 L983.2 910.5 L982.5 911 L943.8 936.6 L942.9 937.1 L942.1 937.4 L941.3 937.4 L940.4 937.3 L939.6 937 L938.8 936.6Z" fill="url(#lg)" stroke="#000" stroke-width="0.9" stroke-linejoin="round" />
<path d="M948.8 932.8 L949 932.4 L949.4 931.9 L950.2 931.5 L974.5 919.3 L975.4 918.9 L976.3 918.7 L977.2 918.6 L978.1 918.6 L979 918.8 L979.9 919.2 L986.9 922.2 L987.7 922.6 L988.2 923.1 L988.4 923.5 L988.4 944.5 L988.2 945 L987.8 945.5 L987.1 946 L964.1 959.3 L963.3 959.8 L962.4 960 L961.5 960.1 L960.7 960.1 L959.8 959.9 L958.9 959.5 L950.2 955.1 L949.4 954.7 L949 954.3 L948.8 953.8Z" fill="url(#lg)" stroke="#000" stroke-width="0.9" stroke-linejoin="round" />
<path d="M950.2 934.2 L949.4 933.7 L949 933.3 L948.8 932.8 L949 932.4 L949.4 931.9 L950.2 931.5 L974.5 919.3 L975.4 918.9 L976.3 918.7 L977.2 918.6 L978.1 918.7 L979 918.8 L979.9 919.2 L986.9 922.2 L987.7 922.6 L988.2 923.1 L988.4 923.5 L988.2 924 L987.8 924.5 L987.1 924.9 L964.2 938.3 L963.3 938.8 L962.4 939 L961.5 939.1 L960.7 939.1 L959.8 938.9 L958.9 938.5Z" fill="url(#lg)" stroke="#000" stroke-width="0.9" stroke-linejoin="round" />
<ellipse cx="941.2" cy="927.3" rx="3.1" ry="1.7" fill="none" stroke="#000" stroke-width="0.8"/>
<ellipse cx="950.6" cy="921.4" rx="3.1" ry="2.2" fill="none" stroke="#000" stroke-width="0.8"/>
<ellipse cx="960" cy="916.7" rx="3.4" ry="2.3" fill="none" stroke="#000" stroke-width="0.8"/>
<ellipse cx="967.5" cy="912.8" rx="3.1" ry="1.7" fill="none" stroke="#000" stroke-width="0.8"/>
<ellipse cx="974.4" cy="908.6" rx="3.1" ry="1.7" fill="none" stroke="#000" stroke-width="0.8"/>
<ellipse cx="964.7" cy="929.7" rx="3.1" ry="1.7" fill="none" stroke="#000" stroke-width="0.8"/>
<ellipse cx="974.1" cy="923.9" rx="3.4" ry="2.5" fill="none" stroke="#000" stroke-width="0.8"/>
<path d="M500 841 L554.5 872.5 L554.5 921 L500 889.5Z" fill="url(#lg)" stroke="#000" stroke-width="1.1" stroke-linejoin="round" />
<path d="M554.5 872.5 L609 841 L609 889.5 L554.5 921Z" fill="url(#lg)" stroke="#000" stroke-width="1.1" stroke-linejoin="round" />
<path d="M500 841 L554.5 809.6 L609 841 L554.5 872.5Z" fill="url(#lg)" stroke="#000" stroke-width="1.1" stroke-linejoin="round" />
<path d="M525.6 855.8 L580.1 824.4" fill="none" stroke="#000" stroke-width="0.7" stroke-linejoin="round" stroke-linecap="round" />
<path d="M530.5 858.7 L585 827.2" fill="none" stroke="#000" stroke-width="0.7" stroke-linejoin="round" stroke-linecap="round" />
<path d="M585.5 894.7 L640 926.2 L640 974.7 L585.5 943.2Z" fill="url(#lg)" stroke="#000" stroke-width="1.1" stroke-linejoin="round" />
<path d="M640 926.2 L694.5 894.7 L694.5 943.2 L640 974.7Z" fill="url(#lg)" stroke="#000" stroke-width="1.1" stroke-linejoin="round" />
<path d="M585.5 894.7 L640 863.3 L694.5 894.7 L640 926.2Z" fill="url(#lg)" stroke="#000" stroke-width="1.1" stroke-linejoin="round" />
<path d="M611.1 909.5 L665.6 878.1" fill="none" stroke="#000" stroke-width="0.7" stroke-linejoin="round" stroke-linecap="round" />
<path d="M616 912.4 L670.5 880.9" fill="none" stroke="#000" stroke-width="0.7" stroke-linejoin="round" stroke-linecap="round" />
<path d="M665.5 943.5 L720 975 L720 1023.5 L665.5 992Z" fill="url(#lg)" stroke="#000" stroke-width="1.1" stroke-linejoin="round" />
<path d="M720 975 L774.5 943.5 L774.5 992 L720 1023.5Z" fill="url(#lg)" stroke="#000" stroke-width="1.1" stroke-linejoin="round" />
<path d="M665.5 943.5 L720 912.1 L774.5 943.5 L720 975Z" fill="url(#lg)" stroke="#000" stroke-width="1.1" stroke-linejoin="round" />
<path d="M691.1 958.3 L745.6 926.9" fill="none" stroke="#000" stroke-width="0.7" stroke-linejoin="round" stroke-linecap="round" />
<path d="M696 961.2 L750.5 929.7" fill="none" stroke="#000" stroke-width="0.7" stroke-linejoin="round" stroke-linecap="round" />
<path d="M1013 964.7 L1067.5 996.2 L1067.5 1044.7 L1013 1013.2Z" fill="url(#lg)" stroke="#000" stroke-width="1.1" stroke-linejoin="round" />
<path d="M1067.5 996.2 L1122 964.7 L1122 1013.2 L1067.5 1044.7Z" fill="url(#lg)" stroke="#000" stroke-width="1.1" stroke-linejoin="round" />
<path d="M1013 964.7 L1067.5 933.3 L1122 964.7 L1067.5 996.2Z" fill="url(#lg)" stroke="#000" stroke-width="1.1" stroke-linejoin="round" />
<path d="M1038.6 979.5 L1093.1 948.1" fill="none" stroke="#000" stroke-width="0.7" stroke-linejoin="round" stroke-linecap="round" />
<path d="M1043.5 982.4 L1098 950.9" fill="none" stroke="#000" stroke-width="0.7" stroke-linejoin="round" stroke-linecap="round" />
<path d="M941.7 1009.7 L996.2 1041.2 L996.2 1089.7 L941.7 1058.2Z" fill="url(#lg)" stroke="#000" stroke-width="1.1" stroke-linejoin="round" />
<path d="M996.2 1041.2 L1050.7 1009.7 L1050.7 1058.2 L996.2 1089.7Z" fill="url(#lg)" stroke="#000" stroke-width="1.1" stroke-linejoin="round" />
<path d="M941.7 1009.7 L996.2 978.3 L1050.7 1009.7 L996.2 1041.2Z" fill="url(#lg)" stroke="#000" stroke-width="1.1" stroke-linejoin="round" />
<path d="M967.3 1024.5 L1021.8 993.1" fill="none" stroke="#000" stroke-width="0.7" stroke-linejoin="round" stroke-linecap="round" />
<path d="M972.2 1027.4 L1026.7 995.9" fill="none" stroke="#000" stroke-width="0.7" stroke-linejoin="round" stroke-linecap="round" />
<path d="M575.5 582.6 L575.8 578.3 L576.5 574.3 L577.8 570.8 L579.5 567.7 L581.7 565.2 L584.3 563.3 L706.7 493.5 L709.6 492.2 L712.9 491.6 L716.4 491.6 L720.1 492.3 L723.9 493.6 L727.8 495.6 L731.7 498.1 L735.5 501.2 L739.2 504.8 L742.7 508.9 L746 513.2 L748.9 517.9 L751.5 522.8 L753.7 527.8 L755.4 532.8 L756.7 537.8 L757.4 542.7 L757.7 547.4 L757.4 551.7 L756.7 555.7 L755.4 559.2 L753.7 562.3 L751.5 564.8 L748.9 566.7 L626.5 636.5 L623.6 637.8 L620.3 638.4 L616.8 638.4 L613.1 637.7 L609.3 636.4 L605.4 634.4 L601.5 631.9 L597.7 628.8 L594 625.2 L590.5 621.1 L587.2 616.8 L584.3 612.1 L581.7 607.2 L579.5 602.2 L577.8 597.2 L576.5 592.2 L575.8 587.3Z" fill="none" stroke="#dff3fd" stroke-width="4.300000000000001" stroke-linejoin="round"/>
<path d="M588.7 776.8 L589 772 L589.8 766.9 L591.1 761.6 L592.9 756.4 L595.2 751.2 L597.9 746.1 L600.9 741.2 L727.1 544.9 L730.5 540.3 L734.2 536.1 L738 532.4 L742 529.2 L746.1 526.5 L750.2 524.5 L754.2 523.1 L758 522.4 L761.7 522.3 L765.1 523 L768.1 524.3 L803.6 544.8 L806.3 546.8 L808.6 549.4 L810.4 552.6 L811.7 556.3 L812.5 560.5 L812.8 565 L812.5 569.9 L811.7 574.9 L810.4 580.1 L808.6 585.4 L806.3 590.6 L803.6 595.7 L800.6 600.6 L674.4 796.9 L671 801.5 L667.3 805.7 L663.5 809.4 L659.5 812.6 L655.4 815.3 L651.3 817.3 L647.3 818.7 L643.5 819.5 L639.8 819.5 L636.4 818.8 L633.4 817.5 L597.9 797 L595.2 795 L592.9 792.4 L591.1 789.2 L589.8 785.5 L589 781.3Z" fill="none" stroke="#dff3fd" stroke-width="4.300000000000001" stroke-linejoin="round"/>
<path d="M448.7 780.6 L465.3 785.7 L465.3 799.7 L470.3 806 L458.9 813 L453.8 806 L448.7 799.7Z" fill="none" stroke="#dff3fd" stroke-width="4.3" stroke-linejoin="round"/>
<path d="M478 785.7 L498.3 780.6 L498.3 808.6 L484.9 814.9 L476.1 820 L472.2 820.6 L477.3 813.6 L478 806Z" fill="none" stroke="#dff3fd" stroke-width="4.3" stroke-linejoin="round"/>
<path d="M446 739.4 L446 772.7 L446 772.7 L447 776.9 L449.8 780.8 L454.2 784.2 L460 786.7 L466.8 788.3 L474 788.9 L481.2 788.3 L488 786.7 L493.8 784.2 L498.2 780.8 L501 776.9 L502 772.7 L502 739.4Z" fill="none" stroke="#dff3fd" stroke-width="4.3" stroke-linejoin="round"/>
<path d="M409.6 665.5 L409.9 660.8 L410.6 655.9 L411.9 650.9 L413.6 645.9 L415.8 640.9 L418.4 636 L421.3 631.3 L424.6 627 L428.1 622.9 L431.8 619.3 L435.6 616.2 L439.5 613.7 L443.4 611.7 L447.2 610.4 L450.9 609.7 L454.4 609.7 L457.7 610.3 L460.6 611.6 L482.1 624.3 L484.6 626.2 L486.8 628.7 L488.5 631.8 L489.8 635.3 L490.5 639.3 L490.8 643.6 L490.5 648.3 L489.8 653.2 L488.5 658.2 L486.8 663.2 L484.6 668.2 L482.1 673.1 L479.1 677.8 L475.9 682.1 L472.4 686.2 L468.6 689.8 L464.8 692.8 L460.9 695.4 L457 697.4 L453.2 698.7 L449.5 699.4 L446 699.4 L442.7 698.8 L439.8 697.5 L418.4 684.8 L415.8 682.9 L413.6 680.4 L411.9 677.3 L410.6 673.8 L409.9 669.8Z" fill="none" stroke="#dff3fd" stroke-width="4.300000000000001" stroke-linejoin="round"/>
<path d="M439 700 L439 739.4 L439 739.4 L440.2 744.6 L443.7 749.5 L449.3 753.7 L456.5 756.9 L464.9 758.9 L474 759.6 L483.1 758.9 L491.5 756.9 L498.7 753.7 L504.3 749.5 L507.8 744.6 L509 739.4 L509 700Z" fill="none" stroke="#dff3fd" stroke-width="4.3" stroke-linejoin="round"/>
<path d="M448.7 653.9 L449 649.5 L449.7 645.5 L451 642 L452.7 638.9 L454.9 636.4 L457.5 634.5 L541.7 586.5 L544.6 585.2 L547.9 584.6 L551.4 584.6 L555.1 585.3 L558.9 586.6 L562.8 588.6 L566.7 591.1 L570.5 594.2 L574.2 597.8 L577.7 601.9 L581 606.2 L583.9 610.9 L586.5 615.8 L588.7 620.8 L590.4 625.8 L591.7 630.8 L592.4 635.7 L592.7 640.4 L592.4 644.7 L591.7 648.7 L590.4 652.2 L588.7 655.3 L586.5 657.8 L583.9 659.7 L499.7 707.7 L496.8 709 L493.5 709.6 L490 709.6 L486.3 708.9 L482.5 707.6 L478.6 705.6 L474.7 703 L470.9 700 L467.2 696.4 L463.7 692.4 L460.4 688 L457.5 683.3 L454.9 678.4 L452.7 673.4 L451 668.4 L449.7 663.4 L449 658.5Z" fill="none" stroke="#dff3fd" stroke-width="4.300000000000001" stroke-linejoin="round"/>
<path d="M462.5 696.8 L462.7 692.1 L463.5 687.2 L464.7 682.2 L466.5 677.2 L468.6 672.2 L471.2 667.3 L474.1 662.6 L477.4 658.2 L480.9 654.2 L484.6 650.6 L488.4 647.5 L492.3 645 L496.2 643 L500.1 641.7 L503.8 641 L507.3 641 L510.5 641.6 L513.5 642.9 L532 653.9 L534.6 655.8 L536.8 658.3 L538.5 661.4 L539.8 664.9 L540.5 668.9 L540.8 673.2 L540.5 677.9 L539.8 682.8 L538.5 687.8 L536.8 692.8 L534.6 697.8 L532 702.7 L529.1 707.4 L525.8 711.8 L522.3 715.8 L518.6 719.4 L514.8 722.5 L510.9 725 L507 727 L503.2 728.3 L499.5 729 L496 729 L492.7 728.4 L489.8 727.1 L471.2 716.1 L468.6 714.2 L466.5 711.7 L464.7 708.6 L463.5 705.1 L462.7 701.1Z" fill="none" stroke="#dff3fd" stroke-width="4.300000000000001" stroke-linejoin="round"/>
<path d="M593.8 793.4 L592.3 794.4 L591.5 795.4 L591.2 796.4 L591.5 797.4 L592.4 798.4 L593.8 799.3 L689 852.6 L690.7 853.4 L692.4 853.9 L694.2 854 L695.9 853.8 L697.6 853.3 L699.4 852.5 L814.8 784.5 L816.3 783.5 L817.1 782.5 L817.4 781.5 L817.1 780.5 L816.2 779.5 L814.8 778.6 L719.6 725.3 L717.9 724.5 L716.2 724 L714.4 723.9 L712.7 724.1 L711 724.6 L709.2 725.4Z" fill="url(#bl)" stroke="#000" stroke-width="1.1" stroke-linejoin="round" />
<path d="M564.2 748.3 L564.3 745.6 L564.7 742.8 L565.2 739.9 L566 736.9 L567 734 L568.2 731 L569.5 728.1 L571.1 725.2 L572.8 722.5 L574.6 719.9 L576.6 717.4 L578.6 715 L580.8 712.9 L583 711 L585.3 709.2 L587.6 707.8 L589.9 706.6 L592.2 705.7 L594.4 705 L596.5 704.7 L598.6 704.6 L600.6 704.9 L602.4 705.4 L604.1 706.2 L636.4 724.8 L638 725.8 L639.3 727.2 L640.5 728.8 L641.5 730.6 L642.3 732.6 L642.8 734.9 L643.2 737.3 L643.3 739.9 L643.2 742.6 L642.8 745.4 L642.3 748.3 L641.5 751.3 L620.9 815.6 L588.6 797 L567 759.4 L566 757.6 L565.2 755.6 L564.7 753.3 L564.3 750.9Z" fill="url(#bl)" stroke="#000" stroke-width="1.1" stroke-linejoin="round" />
<path d="M585.2 771.5 L584.3 770.7 L583.4 769.9 L582.6 768.9 L581.8 767.8 L581.2 766.6 L580.6 765.3 L580.2 763.9 L579.8 762.5 L579.5 760.9 L579.3 759.3 L579.2 757.6 L579.2 755.9 L579.3 754.1 L579.5 752.3 L579.8 750.4 L580.2 748.5 L580.7 746.6 L581.3 744.7 L581.9 742.7 L582.7 740.8 L583.5 738.9 L584.4 737 L585.4 735.1 L586.4 733.3 L587.5 731.5 L588.7 729.7 L589.9 728 L591.2 726.4 L592.6 724.8 L593.9 723.3 L595.3 721.9 L596.8 720.6 L598.2 719.4 L599.7 718.3 L601.2 717.2 L602.7 716.3 L604.2 715.5 L605.7 714.8 L607.2 714.3 L608.7 713.8" fill="none" stroke="#000" stroke-width="1.1"/>
<path d="M575.5 582.6 L575.8 578.3 L576.5 574.3 L577.8 570.8 L579.5 567.7 L581.7 565.2 L584.3 563.3 L706.7 493.5 L709.6 492.2 L712.9 491.6 L716.4 491.6 L720.1 492.3 L723.9 493.6 L727.8 495.6 L731.7 498.1 L735.5 501.2 L739.2 504.8 L742.7 508.9 L746 513.2 L748.9 517.9 L751.5 522.8 L753.7 527.8 L755.4 532.8 L756.7 537.8 L757.4 542.7 L757.7 547.4 L757.4 551.7 L756.7 555.7 L755.4 559.2 L753.7 562.3 L751.5 564.8 L748.9 566.7 L626.5 636.5 L623.6 637.8 L620.3 638.4 L616.8 638.4 L613.1 637.7 L609.3 636.4 L605.4 634.4 L601.5 631.9 L597.7 628.8 L594 625.2 L590.5 621.1 L587.2 616.8 L584.3 612.1 L581.7 607.2 L579.5 602.2 L577.8 597.2 L576.5 592.2 L575.8 587.3Z" fill="url(#bl)" stroke="#000" stroke-width="1.1" stroke-linejoin="round" />
<path d="M635.3 617.1 L635 612.5 L634.3 607.6 L633 602.6 L631.3 597.6 L629.1 592.6 L626.5 587.7 L623.6 583 L620.3 578.6 L616.8 574.6 L613.1 571 L609.3 567.9 L605.4 565.4 L601.5 563.4 L597.7 562.1 L594 561.4 L590.5 561.4 L587.2 562 L584.3 563.3 L581.7 565.2 L579.5 567.7 L577.8 570.8 L576.5 574.3 L575.8 578.3 L575.5 582.6 L575.8 587.3 L576.5 592.2 L577.8 597.2 L579.5 602.2 L581.7 607.2 L584.3 612.1 L587.2 616.8 L590.5 621.2 L594 625.2 L597.7 628.8 L601.5 631.9 L605.4 634.4 L609.3 636.4 L613.1 637.7 L616.8 638.4 L620.3 638.4 L623.6 637.8 L626.5 636.5 L629.1 634.6 L631.3 632.1 L633 629 L634.3 625.5 L635 621.5Z" fill="url(#bl)" stroke="#000" stroke-width="1.1" stroke-linejoin="round" />
<path d="M706.1 551.8 L706.2 549.7 L706.5 547.5 L707.1 545.2 L707.9 543 L708.9 540.7 L710 538.5 L711.3 536.4 L712.8 534.5 L714.4 532.6 L716 531 L717.8 529.6 L719.5 528.5 L721.2 527.6 L723 527 L724.6 526.7 L726.2 526.7 L727.7 527 L729 527.6 L755.5 542.9 L756.6 543.7 L757.6 544.8 L758.4 546.2 L759 547.8 L759.3 549.6 L759.4 551.5 L759.3 553.6 L759 555.8 L758.4 558.1 L757.6 560.3 L756.6 562.6 L755.5 564.8 L754.2 566.9 L752.7 568.9 L751.1 570.6 L749.5 572.3 L747.8 573.7 L746 574.8 L744.2 575.7 L742.5 576.3 L740.9 576.6 L739.3 576.6 L737.8 576.3 L736.5 575.7 L710 560.4 L708.9 559.6 L707.9 558.5 L707.1 557.1 L706.5 555.5 L706.2 553.7Z" fill="url(#bl)" stroke="#000" stroke-width="1.1" stroke-linejoin="round" />
<path d="M588.7 776.8 L589 772 L589.8 766.9 L591.1 761.6 L592.9 756.4 L595.2 751.2 L597.9 746.1 L600.9 741.2 L727.1 544.9 L730.5 540.3 L734.2 536.1 L738 532.4 L742 529.2 L746.1 526.5 L750.2 524.5 L754.2 523.1 L758 522.4 L761.7 522.3 L765.1 523 L768.1 524.3 L803.6 544.8 L806.3 546.8 L808.6 549.4 L810.4 552.6 L811.7 556.3 L812.5 560.5 L812.8 565 L812.5 569.9 L811.7 574.9 L810.4 580.1 L808.6 585.4 L806.3 590.6 L803.6 595.7 L800.6 600.6 L674.4 796.9 L671 801.5 L667.3 805.7 L663.5 809.4 L659.5 812.6 L655.4 815.3 L651.3 817.3 L647.3 818.7 L643.5 819.5 L639.8 819.5 L636.4 818.8 L633.4 817.5 L597.9 797 L595.2 795 L592.9 792.4 L591.1 789.2 L589.8 785.5 L589 781.3Z" fill="url(#bl)" stroke="#000" stroke-width="1.1" stroke-linejoin="round" />
<path d="M624.2 797.3 L624.5 792.5 L625.3 787.4 L626.6 782.1 L628.4 776.9 L630.7 771.7 L633.4 766.6 L636.4 761.7 L762.6 565.4 L766 560.8 L769.7 556.6 L773.5 552.9 L777.5 549.7 L781.6 547 L785.7 545 L789.7 543.6 L793.5 542.9 L797.2 542.8 L800.6 543.5 L803.6 544.8 L806.3 546.8 L808.6 549.4 L810.4 552.6 L811.7 556.3 L812.5 560.5 L812.8 565 L812.5 569.9 L811.7 574.9 L810.4 580.1 L808.6 585.4 L806.3 590.6 L803.6 595.7 L800.6 600.6 L674.4 796.9 L671 801.5 L667.3 805.7 L663.5 809.4 L659.5 812.6 L655.4 815.3 L651.3 817.3 L647.3 818.7 L643.5 819.5 L639.8 819.5 L636.4 818.8 L633.4 817.5 L630.7 815.5 L628.4 812.9 L626.6 809.7 L625.3 806 L624.5 801.8Z" fill="url(#bl)" stroke="#000" stroke-width="1.1" stroke-linejoin="round" />
<path d="M718.8 651.6 L719.8 650.4 L720.8 649.6 L722 649.2 L723.2 649.2 L724.5 649.6 L725.8 650.3 L740.9 660.5 L742.1 661.5 L742.9 662.6 L743.3 663.7 L743.4 664.9 L743.1 666.2 L742.4 667.6 L714.3 713.2 L713.4 714.5 L712.4 715.3 L711.3 715.7 L710.1 715.8 L708.9 715.4 L707.5 714.7 L689.1 702 L687.9 701 L687.2 700 L686.8 698.9 L686.7 697.7 L687.1 696.4 L687.9 695.1Z" fill="none" stroke="#000" stroke-width="0.7"/>
<path d="M774.5 585 L774.6 582.5 L775 579.9 L775.7 577.2 L776.6 574.6 L777.7 571.9 L779.1 569.3 L780.6 566.9 L782.4 564.5 L784.2 562.4 L786.2 560.5 L788.2 558.9 L790.3 557.5 L792.4 556.5 L794.4 555.8 L796.4 555.4 L798.2 555.4 L800 555.7 L801.5 556.4 L805.8 558.9 L807.2 559.9 L808.3 561.2 L809.2 562.8 L809.9 564.7 L810.3 566.8 L810.5 569.1 L810.3 571.6 L809.9 574.2 L809.2 576.9 L808.3 579.5 L807.2 582.2 L805.8 584.8 L804.2 587.2 L802.5 589.6 L800.7 591.7 L798.7 593.6 L796.7 595.2 L794.6 596.6 L792.5 597.6 L790.5 598.3 L788.5 598.7 L786.7 598.7 L785 598.4 L783.4 597.7 L779.1 595.2 L777.7 594.2 L776.6 592.9 L775.7 591.3 L775 589.4 L774.6 587.3Z" fill="url(#bl)" stroke="#000" stroke-width="1.0" stroke-linejoin="round" />
<path d="M778.8 587.4 L778.9 585 L779.3 582.4 L780 579.8 L780.9 577.1 L782 574.4 L783.4 571.8 L785 569.4 L786.7 567 L788.5 564.9 L790.5 563 L792.5 561.4 L794.6 560 L796.7 559 L798.7 558.3 L800.7 557.9 L802.5 557.9 L804.2 558.2 L805.8 558.9 L807.2 559.9 L808.3 561.2 L809.2 562.8 L809.9 564.7 L810.3 566.8 L810.4 569.1 L810.3 571.6 L809.9 574.2 L809.2 576.8 L808.3 579.5 L807.2 582.2 L805.8 584.8 L804.2 587.2 L802.5 589.6 L800.7 591.7 L798.7 593.6 L796.7 595.2 L794.6 596.6 L792.5 597.6 L790.5 598.3 L788.5 598.7 L786.7 598.7 L785 598.4 L783.4 597.7 L782 596.7 L780.9 595.4 L780 593.8 L779.3 591.9 L778.9 589.8Z" fill="url(#bl)" stroke="#000" stroke-width="1.0" stroke-linejoin="round" />
<path d="M637.5 793.2 L637.6 789.8 L638 786.2 L638.7 782.6 L639.7 778.9 L640.9 775.2 L642.4 771.5 L644.1 767.8 L646.1 764.2 L648.2 760.7 L650.5 757.4 L653 754.2 L655.6 751.3 L658.4 748.6 L661.2 746.2 L664 744 L666.9 742.2 L669.8 740.7 L672.6 739.5 L675.5 738.7 L678.2 738.3 L680.8 738.2 L683.3 738.5 L685.6 739.1 L687.7 740.1 L701.6 748.1 L703.6 749.5 L705.3 751.2 L706.8 753.2 L708 755.5 L743.3 828.3 L704 852 L694.2 856 L684 853.5 L670.1 845.5 L662.8 840.3 L640.9 807.2 L639.7 804.9 L638.7 802.3 L638 799.5 L637.6 796.5Z" fill="url(#bl)" stroke="#000" stroke-width="1.1" stroke-linejoin="round" />
<path d="M651.4 801.2 L651.5 797.8 L651.9 794.2 L652.6 790.6 L653.6 786.9 L654.8 783.2 L656.3 779.5 L658 775.8 L660 772.2 L662.1 768.7 L664.4 765.4 L666.9 762.2 L669.5 759.3 L672.2 756.6 L675.1 754.2 L677.9 752 L680.8 750.2 L683.7 748.7 L686.5 747.5 L689.4 746.7 L692.1 746.3 L694.7 746.2 L697.2 746.5 L699.5 747.1 L701.6 748.1 L703.6 749.5 L705.3 751.2 L706.8 753.2 L708 755.5 L743.3 828.3 L704 852 L694.2 856 L684 853.5 L676.7 848.3 L654.8 815.2 L653.6 812.9 L652.6 810.3 L651.9 807.5 L651.5 804.5Z" fill="url(#bl)" stroke="#000" stroke-width="1.1" stroke-linejoin="round" />
<path d="M664.4 793.7 L664.5 791.1 L664.9 788.5 L665.6 785.7 L666.5 782.9 L667.8 780.2 L669.2 777.5 L670.8 774.9 L672.6 772.5 L674.5 770.3 L676.5 768.3 L678.6 766.6 L680.8 765.2 L683 764.1 L685.1 763.4 L687.1 763 L689 763 L690.8 763.3 L692.4 764 L698.3 767.5 L699.8 768.5 L701 769.9 L701.9 771.5 L702.6 773.5 L703 775.7 L703.1 778.1 L703 780.7 L702.6 783.3 L701.9 786.1 L701 788.9 L699.8 791.6 L698.3 794.3 L696.7 796.9 L694.9 799.3 L693 801.5 L691 803.5 L688.9 805.2 L686.7 806.6 L684.5 807.7 L682.4 808.4 L680.4 808.8 L678.5 808.8 L676.7 808.5 L675.1 807.8 L669.2 804.4 L667.8 803.3 L666.5 801.9 L665.6 800.2 L664.9 798.3 L664.5 796.1Z" fill="url(#bl)" stroke="#000" stroke-width="1.0" stroke-linejoin="round" />
<path d="M670.2 797.1 L670.4 794.5 L670.8 791.9 L671.5 789.1 L672.4 786.3 L673.6 783.6 L675.1 780.9 L676.7 778.3 L678.5 775.9 L680.4 773.7 L682.4 771.7 L684.6 770 L686.7 768.6 L688.8 767.5 L691 766.8 L693 766.4 L694.9 766.4 L696.7 766.7 L698.3 767.4 L699.8 768.5 L700.9 769.9 L701.9 771.6 L702.6 773.5 L703 775.7 L703.2 778.1 L703 780.7 L702.6 783.3 L701.9 786.1 L700.9 788.9 L699.8 791.6 L698.3 794.3 L696.7 796.9 L694.9 799.3 L693 801.5 L691 803.5 L688.8 805.2 L686.7 806.6 L684.6 807.7 L682.4 808.4 L680.4 808.8 L678.5 808.8 L676.7 808.5 L675.1 807.8 L673.6 806.7 L672.4 805.3 L671.5 803.6 L670.8 801.7 L670.4 799.5Z" fill="url(#bl)" stroke="#000" stroke-width="1.0" stroke-linejoin="round" />
<path d="M448.7 780.6 L465.3 785.7 L465.3 799.7 L470.3 806 L458.9 813 L453.8 806 L448.7 799.7Z" fill="url(#bl)" stroke="#000" stroke-width="1"/><path d="M453.8 785.7 L453.8 806 L465.3 799.7" fill="none" stroke="#000" stroke-width="0.9"/>
<path d="M478 785.7 L498.3 780.6 L498.3 808.6 L484.9 814.9 L476.1 820 L472.2 820.6 L477.3 813.6 L478 806Z" fill="url(#bl)" stroke="#000" stroke-width="1"/><path d="M484.3 786.3 L484.3 814.9" fill="none" stroke="#000" stroke-width="0.9"/>
<path d="M446 739.4 L446 772.7 A28 16.2 0 0 0 502 772.7 L502 739.4 Z" fill="url(#bl)" stroke="#000" stroke-width="1.1"/>
<path d="M409.6 665.5 L409.9 660.8 L410.6 655.9 L411.9 650.9 L413.6 645.9 L415.8 640.9 L418.4 636 L421.3 631.3 L424.6 627 L428.1 622.9 L431.8 619.3 L435.6 616.2 L439.5 613.7 L443.4 611.7 L447.2 610.4 L450.9 609.7 L454.4 609.7 L457.7 610.3 L460.6 611.6 L482.1 624.3 L484.6 626.2 L486.8 628.7 L488.5 631.8 L489.8 635.3 L490.5 639.3 L490.8 643.6 L490.5 648.3 L489.8 653.2 L488.5 658.2 L486.8 663.2 L484.6 668.2 L482.1 673.1 L479.1 677.8 L475.9 682.1 L472.4 686.2 L468.6 689.8 L464.8 692.8 L460.9 695.4 L457 697.4 L453.2 698.7 L449.5 699.4 L446 699.4 L442.7 698.8 L439.8 697.5 L418.4 684.8 L415.8 682.9 L413.6 680.4 L411.9 677.3 L410.6 673.8 L409.9 669.8Z" fill="url(#bl)" stroke="#000" stroke-width="1.1" stroke-linejoin="round" />
<path d="M428.8 676.8 L429 672.1 L429.8 667.3 L431 662.3 L432.8 657.2 L434.9 652.2 L437.5 647.3 L440.4 642.7 L443.7 638.3 L447.2 634.3 L450.9 630.7 L454.7 627.6 L458.6 625 L462.5 623.1 L466.4 621.7 L470.1 621.1 L473.6 621 L476.8 621.7 L479.8 622.9 L482.3 624.8 L484.5 627.3 L486.2 630.4 L487.5 633.9 L488.3 637.9 L488.5 642.3 L488.3 646.9 L487.5 651.8 L486.2 656.8 L484.5 661.8 L482.3 666.9 L479.8 671.7 L476.8 676.4 L473.6 680.8 L470.1 684.8 L466.4 688.4 L462.5 691.5 L458.6 694 L454.7 696 L450.9 697.3 L447.2 698 L443.7 698 L440.4 697.4 L437.5 696.1 L434.9 694.2 L432.8 691.7 L431 688.7 L429.8 685.1 L429 681.1Z" fill="none" stroke="#000" stroke-width="1.1"/>
<path d="M439 700 L439 739.4 A35 20.2 0 0 0 509 739.4 L509 700 Z" fill="url(#bl)" stroke="#000" stroke-width="1.1"/><ellipse cx="474" cy="700" rx="35" ry="20.2" fill="url(#bl)" stroke="#000" stroke-width="1.1"/>
<path d="M439 702 C 440.5 690 447.5 684 455.5 683" fill="none" stroke="#000" stroke-width="1.1"/>
<path d="M549.4 616.5 L549.5 614.5 L549.8 612.7 L550.4 611.1 L551.2 609.7 L552.1 608.6 L553.3 607.8 L593.9 584.6 L595.2 584 L596.7 583.7 L598.3 583.7 L599.9 584 L601.6 584.6 L603.4 585.5 L605.1 586.6 L606.9 588 L608.5 589.6 L610.1 591.5 L611.6 593.4 L612.9 595.5 L614 597.7 L615 600 L615.8 602.2 L616.4 604.5 L616.7 606.7 L616.8 608.8 L616.7 610.7 L616.4 612.5 L615.8 614.1 L615 615.5 L614 616.6 L612.9 617.4 L572.3 640.6 L571 641.2 L569.5 641.5 L567.9 641.5 L566.3 641.2 L564.5 640.6 L562.8 639.7 L561 638.6 L559.3 637.2 L557.7 635.5 L556.1 633.8 L554.6 631.8 L553.3 629.7 L552.1 627.5 L551.2 625.2 L550.4 623 L549.8 620.7 L549.5 618.5Z" fill="url(#bl)" stroke="#000" stroke-width="1.1" stroke-linejoin="round" />
<path d="M448.7 653.9 L449 649.5 L449.7 645.5 L451 642 L452.7 638.9 L454.9 636.4 L457.5 634.5 L541.7 586.5 L544.6 585.2 L547.9 584.6 L551.4 584.6 L555.1 585.3 L558.9 586.6 L562.8 588.6 L566.7 591.1 L570.5 594.2 L574.2 597.8 L577.7 601.9 L581 606.2 L583.9 610.9 L586.5 615.8 L588.7 620.8 L590.4 625.8 L591.7 630.8 L592.4 635.7 L592.7 640.4 L592.4 644.7 L591.7 648.7 L590.4 652.2 L588.7 655.3 L586.5 657.8 L583.9 659.7 L499.7 707.7 L496.8 709 L493.5 709.6 L490 709.6 L486.3 708.9 L482.5 707.6 L478.6 705.6 L474.7 703 L470.9 700 L467.2 696.4 L463.7 692.4 L460.4 688 L457.5 683.3 L454.9 678.4 L452.7 673.4 L451 668.4 L449.7 663.4 L449 658.5Z" fill="url(#bl)" stroke="#000" stroke-width="1.1" stroke-linejoin="round" />
<path d="M508.5 688.4 L508.2 683.7 L507.5 678.8 L506.2 673.8 L504.5 668.8 L502.3 663.8 L499.7 658.9 L496.8 654.2 L493.5 649.8 L490 645.8 L486.3 642.2 L482.5 639.1 L478.6 636.6 L474.7 634.6 L470.9 633.3 L467.2 632.6 L463.7 632.6 L460.4 633.2 L457.5 634.5 L454.9 636.4 L452.7 638.9 L451 642 L449.7 645.5 L449 649.5 L448.7 653.9 L449 658.5 L449.7 663.4 L451 668.4 L452.7 673.4 L454.9 678.4 L457.5 683.3 L460.4 688 L463.7 692.4 L467.2 696.4 L470.9 700 L474.7 703.1 L478.6 705.6 L482.5 707.6 L486.3 708.9 L490 709.6 L493.5 709.6 L496.8 709 L499.7 707.7 L502.3 705.8 L504.5 703.3 L506.2 700.2 L507.5 696.7 L508.2 692.7Z" fill="url(#bl)" stroke="#000" stroke-width="1.1" stroke-linejoin="round" />
<path d="M462.5 696.8 L462.7 692.1 L463.5 687.2 L464.7 682.2 L466.5 677.2 L468.6 672.2 L471.2 667.3 L474.1 662.6 L477.4 658.2 L480.9 654.2 L484.6 650.6 L488.4 647.5 L492.3 645 L496.2 643 L500.1 641.7 L503.8 641 L507.3 641 L510.5 641.6 L513.5 642.9 L532 653.9 L534.6 655.8 L536.8 658.3 L538.5 661.4 L539.8 664.9 L540.5 668.9 L540.8 673.2 L540.5 677.9 L539.8 682.8 L538.5 687.8 L536.8 692.8 L534.6 697.8 L532 702.7 L529.1 707.4 L525.8 711.8 L522.3 715.8 L518.6 719.4 L514.8 722.5 L510.9 725 L507 727 L503.2 728.3 L499.5 729 L496 729 L492.7 728.4 L489.8 727.1 L471.2 716.1 L468.6 714.2 L466.5 711.7 L464.7 708.6 L463.5 705.1 L462.7 701.1Z" fill="url(#bl)" stroke="#000" stroke-width="1.1" stroke-linejoin="round" />
<path d="M481 707.8 L481.3 703.1 L482 698.2 L483.3 693.2 L485 688.2 L487.2 683.2 L489.8 678.3 L492.7 673.6 L496 669.2 L499.5 665.2 L503.2 661.6 L507 658.5 L510.9 656 L514.8 654 L518.6 652.7 L522.3 652 L525.8 652 L529.1 652.6 L532 653.9 L534.6 655.8 L536.8 658.3 L538.5 661.4 L539.8 664.9 L540.5 668.9 L540.8 673.2 L540.5 677.9 L539.8 682.8 L538.5 687.8 L536.8 692.8 L534.6 697.8 L532 702.7 L529.1 707.4 L525.8 711.8 L522.3 715.8 L518.6 719.4 L514.8 722.5 L510.9 725 L507 727 L503.2 728.3 L499.5 729 L496 729 L492.7 728.4 L489.8 727.1 L487.2 725.2 L485 722.7 L483.3 719.6 L482 716.1 L481.3 712.1Z" fill="url(#bl)" stroke="#000" stroke-width="1.1" stroke-linejoin="round" />
<ellipse cx="251.5" cy="1019" rx="8" ry="9" fill="url(#bl)" stroke="#000" stroke-width="1" transform="rotate(25 252.5 1020)"/>
<ellipse cx="255.0" cy="1021.5" rx="6" ry="7.5" fill="url(#bl)" stroke="#000" stroke-width="1" transform="rotate(25 252.5 1020)"/>
<ellipse cx="255.0" cy="1021.5" rx="3" ry="4.2" fill="none" stroke="#000" stroke-width="0.8" transform="rotate(25 252.5 1020)"/>
<ellipse cx="335" cy="1030" rx="8" ry="9" fill="url(#bl)" stroke="#000" stroke-width="1" transform="rotate(25 336 1031)"/>
<ellipse cx="338.5" cy="1032.5" rx="6" ry="7.5" fill="url(#bl)" stroke="#000" stroke-width="1" transform="rotate(25 336 1031)"/>
<ellipse cx="338.5" cy="1032.5" rx="3" ry="4.2" fill="none" stroke="#000" stroke-width="0.8" transform="rotate(25 336 1031)"/>
<ellipse cx="301.5" cy="1046.5" rx="8" ry="9" fill="url(#bl)" stroke="#000" stroke-width="1" transform="rotate(25 302.5 1047.5)"/>
<ellipse cx="305.0" cy="1049.0" rx="6" ry="7.5" fill="url(#bl)" stroke="#000" stroke-width="1" transform="rotate(25 302.5 1047.5)"/>
<ellipse cx="305.0" cy="1049.0" rx="3" ry="4.2" fill="none" stroke="#000" stroke-width="0.8" transform="rotate(25 302.5 1047.5)"/>
<path d="M248.7 815.4 L304.3 847.5 L304.3 1037 L248.7 1004.9Z" fill="url(#bl)" stroke="#000" stroke-width="1.1" stroke-linejoin="round" />
<path d="M304.3 847.5 L337.3 828.5 L337.3 1018 L304.3 1037Z" fill="url(#bl)" stroke="#000" stroke-width="1.1" stroke-linejoin="round" />
<path d="M248.7 815.4 L281.7 796.4 L337.3 828.5 L304.3 847.5Z" fill="url(#bl)" stroke="#000" stroke-width="1.1" stroke-linejoin="round" />
<path d="M256.1 879 L273 888.5 L273 906 L256.1 896.5Z" fill="none" stroke="#000" stroke-width="0.8" stroke-linejoin="round" />
<path d="M256.1 903 L264 907.5 L264 1010 L256.1 1005.5Z" fill="none" stroke="#000" stroke-width="0.8" stroke-linejoin="round" />
<path d="M253.4 688.3 L258.6 685.7 L351.9 735.7 L351.9 825.9 L346.7 828.5 L253.4 776Z" fill="url(#bl)" stroke="#000" stroke-width="1.3" stroke-linejoin="round" />
<path d="M253.4 688.3 L346.7 738.3 L346.7 828.5 L253.4 776Z" fill="url(#bl)" stroke="#000" stroke-width="1.1" stroke-linejoin="round" />
<path d="M346.7 738.3 L351.9 735.7" fill="none" stroke="#000" stroke-width="1.0" stroke-linejoin="round" stroke-linecap="round" />
<path d="M258.1 693.6 L344.9 743 L344.9 824 L258.1 774.3Z" fill="none" stroke="#000" stroke-width="0.9" stroke-linejoin="round" />
<path d="M263.3 711 L303.6 732.5 L303.6 793.1 L263.3 770.3Z" fill="none" stroke="#000" stroke-width="0.8" stroke-linejoin="round" />
<ellipse cx="325.4" cy="749.5" rx="9.3" ry="12.6" transform="rotate(-28 325.4 749.5)" fill="none" stroke="#000" stroke-width="0.8"/>
<ellipse cx="325.4" cy="749.5" rx="7.8" ry="11" transform="rotate(-28 325.4 749.5)" fill="none" stroke="#000" stroke-width="0.7"/>
<ellipse cx="325.4" cy="776.8" rx="9.3" ry="12.6" transform="rotate(-28 325.4 776.8)" fill="none" stroke="#000" stroke-width="0.8"/>
<ellipse cx="325.4" cy="776.8" rx="7.8" ry="11" transform="rotate(-28 325.4 776.8)" fill="none" stroke="#000" stroke-width="0.7"/>
<path d="M319.3 797.6 L332.3 802.9" fill="none" stroke="#000" stroke-width="0.8" stroke-linejoin="round" stroke-linecap="round" />
<path d="M320.6 802.9 L337.5 809.4" fill="none" stroke="#000" stroke-width="0.8" stroke-linejoin="round" stroke-linecap="round" />
<path d="M171.5 788.5 C168.7 788.1 168.2 796.8 166.9 801.6 C165.6 806.3 164.3 812.4 163.7 817.2 C163 822 162.8 826.3 163 830.2 C163.2 834.1 163.7 838.1 165 840.6 C166.3 843.1 168.7 844.5 170.8 845.2 C173 845.8 175.6 845.3 178 844.5 C180.4 843.8 183.3 843 185.2 840.6 C187 838.2 189.3 836.3 189.1 830.2 C188.8 824.1 186.8 811.1 183.9 804.2 C180.9 797.2 174.3 789 171.5 788.5Z" fill="url(#lg)" stroke="#000" stroke-width="1.0" stroke-linejoin="round" stroke-linecap="round"/>
<path d="M188.5 870.7 C180.3 873 185.2 886.2 185.5 893.2 C185.9 900.2 189.9 902.6 190.4 912.7 C190.9 922.8 189.5 942.4 188.5 953.8 C187.5 965.1 184.7 971.3 184.6 981.1 C184.4 990.9 186.8 1003.2 187.5 1012.3 C188.2 1021.5 188.6 1030.4 189.1 1035.8 C189.6 1041.2 189.4 1042.2 190.4 1044.6 C191.5 1046.9 193.2 1049.3 195.3 1049.8 C197.4 1050.4 200.7 1049.9 203.1 1047.9 C205.6 1045.9 208.5 1041.1 210 1037.7 C211.4 1034.4 211.6 1033.5 211.9 1028 C212.2 1022.4 212.1 1013 211.9 1004.5 C211.8 996.1 210.1 985.7 210.9 977.2 C211.8 968.7 214.5 963.5 216.8 953.8 C219.1 944 221.7 931 224.6 918.6 C227.5 906.2 240.4 887.5 234.4 879.5 C228.4 871.6 196.6 868.5 188.5 870.7Z" fill="url(#lg)" stroke="#000" stroke-width="1.0" stroke-linejoin="round" stroke-linecap="round"/>
<path d="M189.1 1038.7 C190.1 1039.4 193 1042.3 195.3 1042.6 C197.7 1042.9 200.5 1042.5 203.1 1040.7 C205.7 1038.9 209.6 1033.3 210.9 1031.9" fill="none" stroke="#000" stroke-width="0.9"/>
<path d="M195.3 871.7 C190 881.8 212.1 910.8 216.2 928.4 C220.3 945.9 220.3 963.5 219.7 977.2 C219.2 990.9 214.3 999 212.9 1010.4 C211.5 1021.8 211.7 1034.8 211.3 1045.5 C211 1056.3 210.7 1067.8 210.9 1074.8 C211.2 1081.8 211.9 1084.6 212.9 1087.5 C213.9 1090.5 213.2 1092.2 216.8 1092.4 C220.4 1092.6 231.1 1090.2 234.4 1088.9 C237.7 1087.6 232.5 1086 236.7 1084.6 C241 1083.2 254.9 1082.3 259.8 1080.7 C264.6 1079.1 265.3 1076.9 265.6 1074.8 C266 1072.8 265.6 1069.9 261.7 1068.4 C257.8 1066.9 245.8 1069.9 242.2 1066.1 C238.6 1062.2 240.4 1053.8 240.2 1045.5 C240.1 1037.2 240.2 1026.3 241.2 1016.2 C242.2 1006.2 244 994.8 246.1 985 C248.2 975.2 252.2 968.7 253.9 957.7 C255.6 946.6 257.1 931.3 256.2 918.6 C255.4 905.9 250.4 889.9 249 881.5 C247.7 873 257 869.4 248 867.8 C239.1 866.2 200.6 861.6 195.3 871.7Z" fill="url(#lg)" stroke="#000" stroke-width="1.0" stroke-linejoin="round" stroke-linecap="round"/>
<path d="M211.3 1075.8 C213.5 1076.2 220.3 1078.8 224.6 1078.4 C228.9 1077.9 234.4 1074.8 237.3 1072.9 C240.2 1070.9 241 1067.7 241.8 1066.6" fill="none" stroke="#000" stroke-width="0.9"/>
<path d="M213.9 1088.5 C217.3 1087.9 226.7 1086.5 234.4 1084.6 C242 1082.7 254.6 1079.1 259.8 1077.2 C264.9 1075.2 264.3 1073.6 265.2 1072.9" fill="none" stroke="#000" stroke-width="0.8"/>
<path d="M198.8 770.3 C196.2 770.5 197.4 773.9 194.9 774.5 C192.5 775.1 185.6 773.7 182.6 774.5 C179.5 775.2 176.4 777.3 174.7 779.4 C173.1 781.5 171.3 783.9 171.5 788.5 C171.7 793.2 174.2 804.4 176 810.7 C177.9 816.9 181.9 825.3 183.9 830.2 C185.8 835.1 187.8 839.9 189.1 843.2 C190.3 846.5 192.3 848.4 192.3 852.3 C192.3 856.2 186.6 865.2 189.1 869.3 C191.5 873.4 202.7 877.6 208.6 879.7 C214.5 881.7 222.2 882.7 228.1 882.9 C234 883.2 245 885.3 247.9 881.2 C250.8 877.2 247.7 863.1 247.7 856.2 C247.6 849.4 249.5 840.1 247.4 835.4 C245.2 830.7 236.5 828.1 233.3 825 C230.1 821.9 227.2 817.7 226.2 814.6 C225.1 811.5 225.1 806.9 226.2 804.2 C227.2 801.4 233 798.5 233.3 796.4 C233.6 794.2 229.1 791.8 228.1 789.8 C227.1 787.9 226.8 785.3 226.8 783.3 C226.8 781.4 230.3 778.4 228.1 776.8 C226 775.3 216.9 773.9 212.5 772.9 C208.1 771.9 201.5 770.1 198.8 770.3Z" fill="url(#lg)" stroke="#000" stroke-width="1.0" stroke-linejoin="round" stroke-linecap="round"/>
<path d="M198.8 770.3 C201.1 771.8 207.6 776.2 212.5 779.4 C217.4 782.7 224.7 787.1 228.1 789.8 C231.6 792.6 232.5 795.1 233.3 796.1" fill="none" stroke="#000" stroke-width="0.9"/>
<path d="M194.9 774.9 C197.6 776.5 205.7 781.9 211.2 784.6 C216.7 787.4 225.3 790.3 228.1 791.4" fill="none" stroke="#000" stroke-width="0.9"/>
<path d="M201.4 766.4 C200.7 763.3 198.3 756 197.5 752.1 C196.8 748.2 196.3 746.2 196.9 743 C197.4 739.7 198.8 735.7 200.8 732.6 C202.7 729.4 205.3 726.3 208.6 724.1 C211.8 721.9 216.6 720.2 220.3 719.5 C224 718.9 227.5 719.3 230.7 720.2 C234 721.1 237.5 722.9 239.8 724.7 C242.2 726.6 244.1 729.3 244.7 731.2 C245.2 733.2 243.1 734.4 243.1 736.5 C243.1 738.5 244 741.3 244.7 743.6 C245.3 745.9 247.1 748.5 247 750.1 C246.9 751.8 244.6 752.1 244 753.4 C243.4 754.7 243.6 756 243.2 757.9 C242.9 759.9 242.5 762.9 241.9 765.1 C241.4 767.3 241.3 769.7 239.8 771 C238.4 772.2 235.2 771.6 233.3 772.4 C231.4 773.2 229.6 773.7 228.5 775.5 C227.4 777.3 229.5 783.1 226.8 783.3 C224.2 783.6 216.6 778.9 212.5 776.8 C208.4 774.8 203.9 772.7 202.1 771 C200.2 769.2 202.2 769.6 201.4 766.4Z" fill="url(#lg)" stroke="#000" stroke-width="1.0" stroke-linejoin="round" stroke-linecap="round"/>
<path d="M244.7 731.2 C243.9 732.3 241.1 736 239.8 737.8 C238.6 739.5 237.6 739.9 237 741.7 C236.3 743.4 236.5 746.4 235.9 748.2 C235.3 749.9 234 750.6 233.3 752.1 C232.6 753.6 233.1 756.6 231.8 757.3 C230.4 757.9 227.2 755.6 225.3 756 C223.4 756.4 221.8 758.4 220.3 759.9 C218.8 761.4 217.5 763.9 216.4 765.1 C215.3 766.3 215.3 766.8 213.8 767.1 C212.3 767.3 209.2 766.9 207.3 766.4 C205.3 765.9 203 764.2 202.1 763.8" fill="none" stroke="#000" stroke-width="0.9"/>
<path d="M230.7 784.6 C231.8 782.5 237.5 783 241.1 783.3 C244.8 783.7 250 785.2 252.9 786.6 C255.7 787.9 257.7 790.3 258.3 791.4 C259 792.5 258.3 793.3 256.8 793.2 C255.2 793.2 251.6 791.4 249 791.1 C246.4 790.8 242.8 790.9 241.1 791.4 C239.5 791.9 238.4 793.1 238.8 794 C239.2 794.9 241.8 796 243.8 796.6 C245.7 797.3 249.3 797.2 250.5 797.9 C251.7 798.6 252.5 800.7 250.9 800.9 C249.3 801.1 243.9 800 241.1 799.2 C238.4 798.5 236.4 798.8 234.6 796.4 C232.9 793.9 229.6 786.8 230.7 784.6Z" fill="url(#lg)" stroke="#000" stroke-width="1.0" stroke-linejoin="round" stroke-linecap="round"/>
<path d="M234.6 797 C238.7 797.4 247.3 802.1 254.2 805.5 C261 808.9 275.1 817 280.2 819.8 C285.3 822.6 285.7 825.7 288.3 824.3 C290.8 823 294.1 815.3 297.1 810.7 C300.1 806.1 306.9 797.5 308.2 793.8 C309.5 790 305.5 788.5 306 785.9 C306.5 783.4 310 779.8 311.5 776.8 C313 773.9 314.9 767.4 316 766.1 C317.1 764.9 318.6 767.3 318.9 768.4 C319.2 769.4 317.3 771.8 318 772.9 C318.6 774 321.6 774 323.2 775.5 C324.8 777.1 328.5 781 328.6 783.3 C328.7 785.7 325.2 789 323.8 791.1 C322.5 793.3 321.4 794 319.5 797.9 C317.7 801.8 313.8 811.6 311.5 817.2 C309.1 822.8 305.6 831.2 303.6 835.4 C301.7 839.6 302 844.2 298.4 845.2 C294.9 846.2 286.8 843.7 280.2 842.2 C273.6 840.7 260.4 837.6 254.2 835.4 C247.9 833.2 242.4 829.9 238.5 827.6 C234.7 825.3 230.7 822.1 228.8 819.8 C226.8 817.4 225.8 814.5 225.5 812 C225.3 809.4 225.7 805.1 227.1 802.9 C228.5 800.6 230.6 796.6 234.6 797Z" fill="url(#lg)" stroke="#000" stroke-width="1.0" stroke-linejoin="round" stroke-linecap="round"/>
<path d="M308.2 793.8 L319.5 798.3" fill="none" stroke="#000" stroke-width="0.9" stroke-linejoin="round" stroke-linecap="round" />
<path d="M448.5 1028.8 L470 984 L543.5 1022.5 L521 1070.6Z" fill="url(#lg)" stroke="#000" stroke-width="0.7" stroke-linejoin="round" />
<path d="M376 1070.6 L448.5 1028.8 L521 1070.6 L448.5 1112.5Z" fill="url(#lg)" stroke="#000" stroke-width="1.0" stroke-linejoin="round" />
<path d="M448.5 1028.8 L448.5 1091.8" fill="none" stroke="#000" stroke-width="1.0" stroke-linejoin="round" stroke-linecap="round" />
<path d="M431.8 1101.4 L448.5 1091.8 L465.2 1101.4" fill="none" stroke="#000" stroke-width="1.0" stroke-linejoin="round" stroke-linecap="round" />
<path d="M376 1070.6 L448.5 1112.5 L448.5 1176 L376 1134.1Z" fill="url(#lg)" stroke="#000" stroke-width="1.0" stroke-linejoin="round" />
<path d="M448.5 1112.5 L521 1070.6 L521 1134.1 L448.5 1176Z" fill="url(#lg)" stroke="#000" stroke-width="1.0" stroke-linejoin="round" />
<path d="M465.2 1101.4 L521 1070.6" fill="none" stroke="#000" stroke-width="1.6" stroke-linejoin="round" stroke-linecap="round" />
<path d="M376 1070.6 L345 1081 L407.5 1127.5 L448.5 1112.5Z" fill="url(#lg)" stroke="#000" stroke-width="1.0" stroke-linejoin="round" />
<path d="M483 1169.8 L570 1119.5 L657 1169.8 L570 1220Z" fill="url(#lg)" stroke="#000" stroke-width="1.0" stroke-linejoin="round" />
<path d="M493.4 1171 L570 1124.7 L646.6 1171 L570 1216.1Z" fill="url(#lg)" stroke="#000" stroke-width="1.0" stroke-linejoin="round" />
<path d="M570 1124.7 L570 1165.5" fill="none" stroke="#000" stroke-width="1.0" stroke-linejoin="round" stroke-linecap="round" />
<path d="M528.7 1189.4 L570 1165.5 L611.3 1189.4" fill="none" stroke="#000" stroke-width="1.0" stroke-linejoin="round" stroke-linecap="round" />
<path d="M483 1169.8 L570 1220 L570 1258 L483 1207.8Z" fill="url(#lg)" stroke="#000" stroke-width="1.0" stroke-linejoin="round" />
<path d="M570 1220 L657 1169.8 L657 1207.8 L570 1258Z" fill="url(#lg)" stroke="#000" stroke-width="1.0" stroke-linejoin="round" />
<path d="M590.5 1238.8 L677.5 1188.5 L764.5 1238.8 L677.5 1289Z" fill="url(#lg)" stroke="#000" stroke-width="1.0" stroke-linejoin="round" />
<path d="M600.9 1240 L677.5 1193.7 L754.1 1240 L677.5 1285.1Z" fill="url(#lg)" stroke="#000" stroke-width="1.0" stroke-linejoin="round" />
<path d="M677.5 1193.7 L677.5 1234.5" fill="none" stroke="#000" stroke-width="1.0" stroke-linejoin="round" stroke-linecap="round" />
<path d="M636.2 1258.4 L677.5 1234.5 L718.8 1258.4" fill="none" stroke="#000" stroke-width="1.0" stroke-linejoin="round" stroke-linecap="round" />
<path d="M590.5 1238.8 L677.5 1289 L677.5 1327 L590.5 1276.8Z" fill="url(#lg)" stroke="#000" stroke-width="1.0" stroke-linejoin="round" />
<path d="M677.5 1289 L764.5 1238.8 L764.5 1276.8 L677.5 1327Z" fill="url(#lg)" stroke="#000" stroke-width="1.0" stroke-linejoin="round" />
<circle cx="760" cy="314" r="28.6" fill="#fff"/>
<circle cx="760" cy="314" r="27" fill="#000"/>
<text x="760" y="325" text-anchor="middle" font-size="32.5" font-weight="700" fill="#fff">1</text>
<circle cx="1016" cy="666" r="28.6" fill="#fff"/>
<circle cx="1016" cy="666" r="27" fill="#000"/>
<text x="1016" y="677" text-anchor="middle" font-size="32.5" font-weight="700" fill="#fff">2</text>
<circle cx="481.7" cy="572.5" r="28.6" fill="#fff"/>
<circle cx="481.7" cy="572.5" r="27" fill="#000"/>
<text x="481.7" y="583.5" text-anchor="middle" font-size="32.5" font-weight="700" fill="#fff">3</text>
<circle cx="376" cy="967" r="28.6" fill="#fff"/>
<circle cx="376" cy="967" r="27" fill="#000"/>
<text x="376" y="978" text-anchor="middle" font-size="32.5" font-weight="700" fill="#fff">4</text>
<circle cx="903" cy="590" r="28.6" fill="#fff"/>
<circle cx="903" cy="590" r="27" fill="#000"/>
<text x="903" y="601" text-anchor="middle" font-size="32.5" font-weight="700" fill="#fff">5</text>
<circle cx="33.4" cy="1478" r="28.4" fill="#000"/>
<text x="33.4" y="1489" text-anchor="middle" font-size="32.5" font-weight="700" fill="#fff">1</text>
<text x="5" y="1537.7" font-size="26.3" font-weight="700" fill="#000" textLength="257.5" lengthAdjust="spacingAndGlyphs">Machine intelligence</text>
<text x="5" y="1570.3" font-size="26.3" fill="#1a1a1a">“conducts” an</text>
<text x="5" y="1602.5" font-size="26.3" fill="#1a1a1a">orchestra of Fourth</text>
<text x="5" y="1634.8" font-size="26.3" fill="#1a1a1a">Industrial Revolution</text>
<text x="5" y="1667.0" font-size="26.3" fill="#1a1a1a">technologies,</text>
<text x="5" y="1699.3" font-size="26.3" fill="#1a1a1a">maintaining system,</text>
<text x="5" y="1731.5" font-size="26.3" fill="#1a1a1a">timing, sequencing,</text>
<text x="5" y="1763.8" font-size="26.3" fill="#1a1a1a">and responsiveness</text>
<circle cx="342.4" cy="1478" r="28.4" fill="#000"/>
<text x="342.4" y="1489" text-anchor="middle" font-size="32.5" font-weight="700" fill="#fff">2</text>
<text x="314" y="1537.7" font-size="26.3" font-weight="700" fill="#000" textLength="284" lengthAdjust="spacingAndGlyphs">Wearables and devices</text>
<text x="314" y="1570.3" font-size="26.3" fill="#1a1a1a">give critical alerts to</text>
<text x="314" y="1602.5" font-size="26.3" fill="#1a1a1a">technicians based on</text>
<text x="314" y="1634.8" font-size="26.3" fill="#1a1a1a">real-time data</text>
<circle cx="651.4" cy="1478" r="28.4" fill="#000"/>
<text x="651.4" y="1489" text-anchor="middle" font-size="32.5" font-weight="700" fill="#fff">3</text>
<text x="623" y="1537.7" font-size="26.3" font-weight="700" fill="#000" textLength="206" lengthAdjust="spacingAndGlyphs">Flexible robotics</text>
<text x="623" y="1570.3" font-size="26.3" fill="#1a1a1a">are designed to be</text>
<text x="623" y="1602.5" font-size="26.3" fill="#1a1a1a">easily reprogrammed</text>
<text x="623" y="1634.8" font-size="26.3" fill="#1a1a1a">so that they can handle</text>
<text x="623" y="1667.0" font-size="26.3" fill="#1a1a1a">multiple, diverse</text>
<text x="623" y="1699.3" font-size="26.3" fill="#1a1a1a">products</text>
<circle cx="960.4" cy="1478" r="28.4" fill="#000"/>
<text x="960.4" y="1489" text-anchor="middle" font-size="32.5" font-weight="700" fill="#fff">4</text>
<text x="932" y="1537.7" font-size="26.3" font-weight="700" fill="#000" textLength="248" lengthAdjust="spacingAndGlyphs">Integrated systems,</text>
<text x="932" y="1570.3" font-size="26.3" fill="#1a1a1a">including the</text>
<text x="932" y="1602.5" font-size="26.3" fill="#1a1a1a">manufacturing</text>
<text x="932" y="1634.8" font-size="26.3" fill="#1a1a1a">execution system and</text>
<text x="932" y="1667.0" font-size="26.3" fill="#1a1a1a">distributed control</text>
<text x="932" y="1699.3" font-size="26.3" fill="#1a1a1a">system, inform and</text>
<text x="932" y="1731.5" font-size="26.3" fill="#1a1a1a">control all machines</text>
<text x="932" y="1763.8" font-size="26.3" fill="#1a1a1a">needed to make the</text>
<text x="932" y="1796.0" font-size="26.3" fill="#1a1a1a">next product</text>
<circle cx="1269.4" cy="1478" r="28.4" fill="#000"/>
<text x="1269.4" y="1489" text-anchor="middle" font-size="32.5" font-weight="700" fill="#fff">5</text>
<text x="1241" y="1537.7" font-size="26.3" font-weight="700" fill="#000" textLength="270" lengthAdjust="spacingAndGlyphs">Cloud and edge hosts</text>
<text x="1241" y="1570.3" font-size="26.3" fill="#1a1a1a">connect all systems</text>
<text x="1241" y="1602.5" font-size="26.3" fill="#1a1a1a">wirelessly and execute</text>
<text x="1241" y="1634.8" font-size="26.3" fill="#1a1a1a">critical computations</text>
<text x="5" y="50" font-size="44.6" fill="#000" stroke="#000" stroke-width="1.5" textLength="1485" lengthAdjust="spacingAndGlyphs">With AI, machine intelligence can orchestrate highly complex technologies</text>
<text x="5" y="101" font-size="44.6" fill="#000" stroke="#000" stroke-width="1.5" textLength="374" lengthAdjust="spacingAndGlyphs">for rapid solutions.</text>
<text x="5" y="198.5" font-size="31.5" fill="#000" stroke="#000" stroke-width="1.0" textLength="642" lengthAdjust="spacingAndGlyphs">Implementation of a ‘one click’ changeover</text>
<text x="5" y="1874.5" font-size="21" fill="#000" textLength="211" lengthAdjust="spacingAndGlyphs">McKinsey &amp; Company</text>
</svg></body></html>
